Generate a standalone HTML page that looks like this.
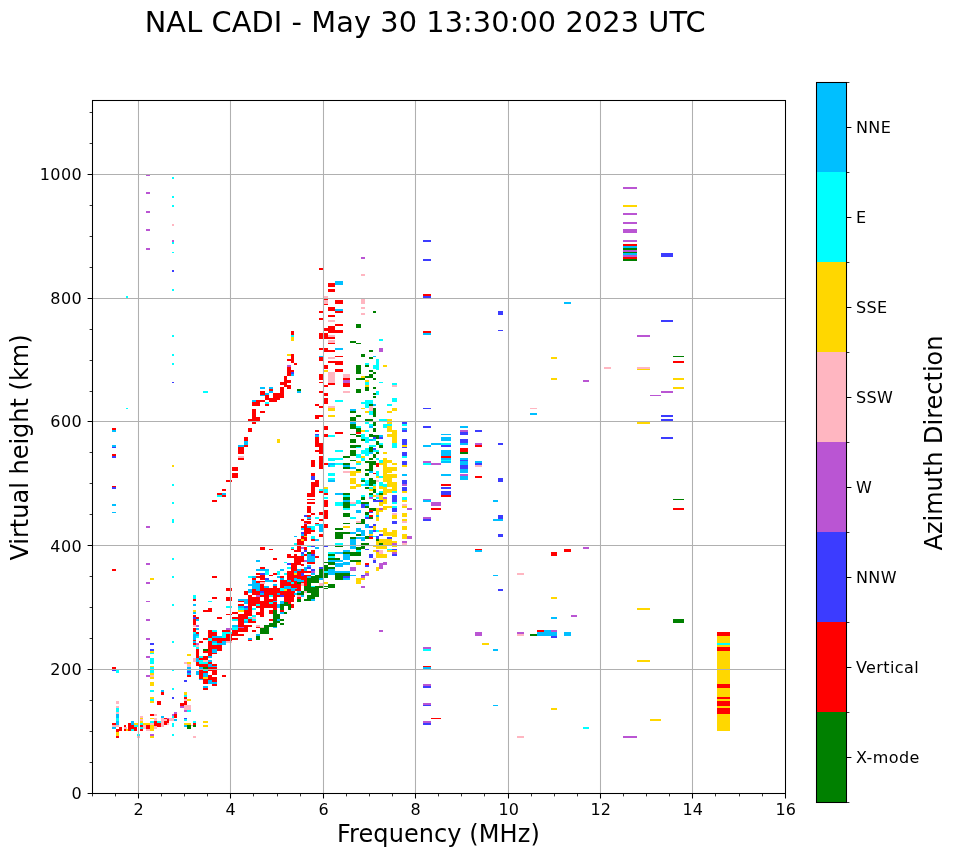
<!DOCTYPE html><html><head><meta charset="utf-8"><title>NAL CADI ionogram</title>
<style>html,body{margin:0;padding:0;background:#fff}svg{display:block}text{font-family:"DejaVu Sans","Liberation Sans",sans-serif;fill:#000}</style></head><body>
<svg width="958" height="857" viewBox="0 0 958 857">
<rect width="958" height="857" fill="#fff"/>
<g shape-rendering="crispEdges">
<rect x="116" y="701" width="3" height="3" fill="#ffb6c1"/>
<rect x="116" y="706" width="3" height="2" fill="#ffb6c1"/>
<rect x="116" y="708" width="3" height="4" fill="#00ffff"/>
<rect x="116" y="712" width="3" height="2" fill="#ffb6c1"/>
<rect x="116" y="714" width="3" height="4" fill="#00bfff"/>
<rect x="116" y="718" width="3" height="3" fill="#00ffff"/>
<rect x="116" y="721" width="3" height="4" fill="#00bfff"/>
<rect x="112" y="723" width="4" height="2" fill="#ff0000"/>
<rect x="112" y="725" width="7" height="2" fill="#ffb6c1"/>
<rect x="112" y="727" width="4" height="2" fill="#00bfff"/>
<rect x="119" y="727" width="3" height="4" fill="#ff0000"/>
<rect x="116" y="729" width="3" height="3" fill="#ff0000"/>
<rect x="116" y="732" width="3" height="4" fill="#ffd700"/>
<rect x="116" y="736" width="3" height="2" fill="#ff0000"/>
<rect x="124" y="725" width="2" height="2" fill="#ff0000"/>
<rect x="124" y="727" width="3" height="2" fill="#ffb6c1"/>
<rect x="124" y="729" width="2" height="2" fill="#ff0000"/>
<rect x="126" y="729" width="2" height="2" fill="#ffd700"/>
<rect x="128" y="723" width="3" height="8" fill="#ff0000"/>
<rect x="131" y="721" width="3" height="4" fill="#00bfff"/>
<rect x="131" y="725" width="3" height="4" fill="#ff0000"/>
<rect x="131" y="729" width="3" height="2" fill="#00ffff"/>
<rect x="134" y="727" width="3" height="4" fill="#ff0000"/>
<rect x="134" y="725" width="4" height="2" fill="#00ffff"/>
<rect x="134" y="723" width="4" height="2" fill="#ffd700"/>
<rect x="140" y="716" width="3" height="2" fill="#ffb6c1"/>
<rect x="140" y="718" width="3" height="1" fill="#ffd700"/>
<rect x="140" y="719" width="3" height="2" fill="#ffb6c1"/>
<rect x="140" y="721" width="3" height="2" fill="#ffd700"/>
<rect x="140" y="723" width="3" height="2" fill="#00ffff"/>
<rect x="143" y="723" width="7" height="2" fill="#ffd700"/>
<rect x="140" y="725" width="3" height="2" fill="#ff0000"/>
<rect x="140" y="727" width="3" height="2" fill="#00ffff"/>
<rect x="140" y="729" width="3" height="2" fill="#ff0000"/>
<rect x="143" y="725" width="3" height="4" fill="#ffb6c1"/>
<rect x="137" y="734" width="3" height="2" fill="#00ffff"/>
<rect x="137" y="736" width="3" height="2" fill="#ffb6c1"/>
<rect x="146" y="725" width="4" height="4" fill="#ff0000"/>
<rect x="146" y="729" width="4" height="2" fill="#ffb6c1"/>
<rect x="150" y="690" width="4" height="2" fill="#00ffff"/>
<rect x="150" y="697" width="4" height="2" fill="#ffd700"/>
<rect x="150" y="699" width="4" height="2" fill="#00ffff"/>
<rect x="150" y="701" width="4" height="2" fill="#ffd700"/>
<rect x="150" y="714" width="4" height="2" fill="#ff0000"/>
<rect x="154" y="714" width="3" height="2" fill="#ffb6c1"/>
<rect x="150" y="718" width="4" height="1" fill="#ffd700"/>
<rect x="150" y="721" width="4" height="2" fill="#00ffff"/>
<rect x="150" y="723" width="4" height="2" fill="#ffb6c1"/>
<rect x="150" y="725" width="4" height="6" fill="#ffd700"/>
<rect x="150" y="734" width="4" height="2" fill="#ba55d3"/>
<rect x="150" y="736" width="4" height="2" fill="#ffd700"/>
<rect x="154" y="718" width="3" height="3" fill="#ffb6c1"/>
<rect x="154" y="721" width="7" height="6" fill="#ff0000"/>
<rect x="157" y="721" width="4" height="2" fill="#00ffff"/>
<rect x="154" y="726" width="3" height="3" fill="#ffb6c1"/>
<rect x="157" y="701" width="4" height="4" fill="#ff0000"/>
<rect x="161" y="690" width="3" height="2" fill="#00bfff"/>
<rect x="161" y="692" width="3" height="3" fill="#ff0000"/>
<rect x="161" y="716" width="3" height="2" fill="#00bfff"/>
<rect x="161" y="718" width="3" height="9" fill="#ffb6c1"/>
<rect x="164" y="718" width="5" height="7" fill="#ff0000"/>
<rect x="164" y="719" width="3" height="2" fill="#ffb6c1"/>
<rect x="167" y="718" width="2" height="1" fill="#ba55d3"/>
<rect x="167" y="723" width="2" height="2" fill="#ffb6c1"/>
<rect x="169" y="718" width="5" height="3" fill="#ffb6c1"/>
<rect x="172" y="697" width="2" height="2" fill="#3c3cff"/>
<rect x="172" y="714" width="2" height="2" fill="#ba55d3"/>
<rect x="172" y="716" width="2" height="2" fill="#00ffff"/>
<rect x="172" y="723" width="2" height="4" fill="#00ffff"/>
<rect x="172" y="734" width="2" height="2" fill="#00ffff"/>
<rect x="174" y="712" width="3" height="2" fill="#ba55d3"/>
<rect x="174" y="714" width="3" height="4" fill="#ff0000"/>
<rect x="174" y="719" width="3" height="2" fill="#00bfff"/>
<rect x="184" y="692" width="3" height="3" fill="#ffd700"/>
<rect x="184" y="695" width="3" height="2" fill="#00ffff"/>
<rect x="184" y="697" width="3" height="2" fill="#ff0000"/>
<rect x="184" y="699" width="3" height="2" fill="#ffb6c1"/>
<rect x="187" y="699" width="4" height="2" fill="#ffd700"/>
<rect x="184" y="701" width="3" height="4" fill="#ff0000"/>
<rect x="180" y="703" width="4" height="3" fill="#ff0000"/>
<rect x="180" y="706" width="4" height="2" fill="#ba55d3"/>
<rect x="184" y="705" width="7" height="5" fill="#ffb6c1"/>
<rect x="184" y="710" width="3" height="2" fill="#ba55d3"/>
<rect x="187" y="710" width="4" height="2" fill="#00ffff"/>
<rect x="184" y="718" width="3" height="1" fill="#3c3cff"/>
<rect x="184" y="719" width="3" height="2" fill="#00ffff"/>
<rect x="184" y="723" width="7" height="2" fill="#ffd700"/>
<rect x="184" y="725" width="3" height="2" fill="#00bfff"/>
<rect x="187" y="725" width="4" height="4" fill="#008000"/>
<rect x="191" y="725" width="2" height="1" fill="#ffb6c1"/>
<rect x="193" y="721" width="3" height="2" fill="#00ffff"/>
<rect x="193" y="723" width="3" height="2" fill="#ff0000"/>
<rect x="193" y="725" width="3" height="2" fill="#008000"/>
<rect x="193" y="736" width="3" height="2" fill="#ffb6c1"/>
<rect x="203" y="721" width="5" height="2" fill="#ffd700"/>
<rect x="203" y="725" width="5" height="2" fill="#ffd700"/>
<rect x="146" y="583" width="4" height="1" fill="#ba55d3"/>
<rect x="146" y="601" width="4" height="1" fill="#ba55d3"/>
<rect x="146" y="619" width="4" height="2" fill="#ba55d3"/>
<rect x="146" y="638" width="4" height="2" fill="#ba55d3"/>
<rect x="146" y="656" width="4" height="2" fill="#ba55d3"/>
<rect x="146" y="675" width="4" height="2" fill="#ba55d3"/>
<rect x="150" y="643" width="4" height="2" fill="#3c3cff"/>
<rect x="150" y="649" width="4" height="2" fill="#3c3cff"/>
<rect x="150" y="651" width="4" height="2" fill="#ffd700"/>
<rect x="150" y="653" width="4" height="1" fill="#00ffff"/>
<rect x="150" y="658" width="4" height="6" fill="#00ffff"/>
<rect x="150" y="666" width="4" height="1" fill="#ffd700"/>
<rect x="150" y="667" width="4" height="6" fill="#00ffff"/>
<rect x="150" y="673" width="4" height="2" fill="#ffd700"/>
<rect x="150" y="675" width="4" height="2" fill="#ffb6c1"/>
<rect x="150" y="677" width="4" height="2" fill="#ffd700"/>
<rect x="150" y="682" width="4" height="4" fill="#ffd700"/>
<rect x="112" y="667" width="4" height="2" fill="#ff0000"/>
<rect x="112" y="670" width="4" height="1" fill="#3c3cff"/>
<rect x="116" y="670" width="3" height="3" fill="#00ffff"/>
<rect x="172" y="604" width="2" height="2" fill="#00ffff"/>
<rect x="172" y="641" width="2" height="2" fill="#00ffff"/>
<rect x="172" y="670" width="2" height="1" fill="#00ffff"/>
<rect x="172" y="688" width="2" height="2" fill="#00ffff"/>
<rect x="187" y="654" width="4" height="2" fill="#ffd700"/>
<rect x="184" y="662" width="3" height="2" fill="#ffb6c1"/>
<rect x="187" y="662" width="4" height="2" fill="#ffd700"/>
<rect x="187" y="664" width="4" height="3" fill="#ffb6c1"/>
<rect x="187" y="667" width="4" height="4" fill="#00bfff"/>
<rect x="187" y="671" width="4" height="2" fill="#3c3cff"/>
<rect x="187" y="673" width="4" height="2" fill="#00bfff"/>
<rect x="187" y="675" width="4" height="2" fill="#ff0000"/>
<rect x="184" y="680" width="3" height="2" fill="#3c3cff"/>
<rect x="193" y="595" width="3" height="4" fill="#00ffff"/>
<rect x="193" y="599" width="3" height="2" fill="#ff0000"/>
<rect x="193" y="604" width="3" height="2" fill="#00bfff"/>
<rect x="193" y="610" width="3" height="2" fill="#ffd700"/>
<rect x="193" y="612" width="3" height="2" fill="#00bfff"/>
<rect x="193" y="615" width="3" height="2" fill="#ff0000"/>
<rect x="193" y="617" width="3" height="2" fill="#3c3cff"/>
<rect x="196" y="617" width="3" height="2" fill="#ff0000"/>
<rect x="193" y="619" width="3" height="6" fill="#ff0000"/>
<rect x="196" y="619" width="3" height="2" fill="#00bfff"/>
<rect x="193" y="625" width="3" height="2" fill="#ffb6c1"/>
<rect x="196" y="625" width="3" height="2" fill="#ba55d3"/>
<rect x="196" y="628" width="3" height="2" fill="#00bfff"/>
<rect x="193" y="628" width="3" height="4" fill="#ff0000"/>
<rect x="196" y="632" width="3" height="2" fill="#ff0000"/>
<rect x="193" y="632" width="3" height="2" fill="#00ffff"/>
<rect x="193" y="634" width="3" height="6" fill="#00bfff"/>
<rect x="196" y="634" width="3" height="2" fill="#00bfff"/>
<rect x="196" y="636" width="3" height="2" fill="#00ffff"/>
<rect x="193" y="640" width="3" height="1" fill="#ff0000"/>
<rect x="193" y="641" width="3" height="2" fill="#00bfff"/>
<rect x="193" y="643" width="3" height="2" fill="#ff0000"/>
<rect x="196" y="643" width="3" height="2" fill="#ba55d3"/>
<rect x="193" y="645" width="3" height="2" fill="#00ffff"/>
<rect x="196" y="645" width="3" height="2" fill="#ffb6c1"/>
<rect x="196" y="647" width="3" height="2" fill="#00ffff"/>
<rect x="199" y="641" width="4" height="2" fill="#ff0000"/>
<rect x="212" y="597" width="5" height="2" fill="#ff0000"/>
<rect x="208" y="601" width="4" height="1" fill="#00ffff"/>
<rect x="208" y="608" width="4" height="4" fill="#ff0000"/>
<rect x="203" y="610" width="5" height="2" fill="#ff0000"/>
<rect x="217" y="617" width="3" height="2" fill="#ff0000"/>
<rect x="208" y="630" width="4" height="8" fill="#ff0000"/>
<rect x="212" y="630" width="5" height="2" fill="#00ffff"/>
<rect x="212" y="632" width="5" height="4" fill="#ff0000"/>
<rect x="212" y="636" width="8" height="2" fill="#00bfff"/>
<rect x="203" y="638" width="5" height="2" fill="#ff0000"/>
<rect x="208" y="638" width="4" height="3" fill="#00bfff"/>
<rect x="212" y="638" width="5" height="4" fill="#ff0000"/>
<rect x="217" y="638" width="3" height="4" fill="#00bfff"/>
<rect x="208" y="641" width="4" height="15" fill="#ff0000"/>
<rect x="212" y="642" width="5" height="3" fill="#00ffff"/>
<rect x="217" y="643" width="3" height="2" fill="#00bfff"/>
<rect x="212" y="645" width="8" height="4" fill="#ff0000"/>
<rect x="212" y="649" width="5" height="4" fill="#00bfff"/>
<rect x="217" y="649" width="3" height="2" fill="#ff0000"/>
<rect x="212" y="653" width="5" height="1" fill="#ff0000"/>
<rect x="203" y="649" width="5" height="2" fill="#008000"/>
<rect x="203" y="651" width="5" height="2" fill="#ff0000"/>
<rect x="196" y="649" width="3" height="9" fill="#ff0000"/>
<rect x="196" y="658" width="3" height="4" fill="#00bfff"/>
<rect x="196" y="662" width="3" height="4" fill="#ff0000"/>
<rect x="199" y="656" width="4" height="2" fill="#00bfff"/>
<rect x="199" y="658" width="4" height="2" fill="#ff0000"/>
<rect x="203" y="656" width="5" height="4" fill="#ff0000"/>
<rect x="208" y="656" width="4" height="2" fill="#00bfff"/>
<rect x="193" y="658" width="3" height="4" fill="#ffb6c1"/>
<rect x="199" y="660" width="9" height="4" fill="#00ffff"/>
<rect x="203" y="660" width="5" height="2" fill="#ffb6c1"/>
<rect x="208" y="660" width="4" height="2" fill="#00bfff"/>
<rect x="208" y="662" width="4" height="2" fill="#ff0000"/>
<rect x="199" y="664" width="9" height="3" fill="#ff0000"/>
<rect x="208" y="664" width="4" height="3" fill="#00bfff"/>
<rect x="212" y="664" width="5" height="2" fill="#ff0000"/>
<rect x="212" y="666" width="5" height="1" fill="#00bfff"/>
<rect x="199" y="667" width="4" height="2" fill="#00bfff"/>
<rect x="203" y="667" width="5" height="2" fill="#008000"/>
<rect x="208" y="667" width="12" height="4" fill="#ff0000"/>
<rect x="199" y="669" width="4" height="2" fill="#ff0000"/>
<rect x="203" y="669" width="5" height="2" fill="#00bfff"/>
<rect x="196" y="671" width="3" height="4" fill="#00bfff"/>
<rect x="199" y="671" width="4" height="8" fill="#ff0000"/>
<rect x="203" y="670" width="5" height="1" fill="#00ffff"/>
<rect x="203" y="671" width="5" height="2" fill="#ff0000"/>
<rect x="203" y="673" width="5" height="4" fill="#00bfff"/>
<rect x="203" y="677" width="5" height="2" fill="#ffd700"/>
<rect x="203" y="679" width="5" height="5" fill="#ff0000"/>
<rect x="212" y="671" width="5" height="4" fill="#ff0000"/>
<rect x="208" y="675" width="4" height="5" fill="#ff0000"/>
<rect x="208" y="680" width="4" height="4" fill="#00bfff"/>
<rect x="212" y="677" width="5" height="5" fill="#ff0000"/>
<rect x="212" y="682" width="5" height="2" fill="#00bfff"/>
<rect x="212" y="684" width="5" height="2" fill="#ff0000"/>
<rect x="199" y="679" width="4" height="1" fill="#00bfff"/>
<rect x="203" y="686" width="5" height="2" fill="#00bfff"/>
<rect x="203" y="688" width="5" height="2" fill="#ff0000"/>
<rect x="226" y="588" width="6" height="3" fill="#ff0000"/>
<rect x="226" y="597" width="6" height="4" fill="#ff0000"/>
<rect x="226" y="606" width="6" height="2" fill="#00ffff"/>
<rect x="226" y="614" width="6" height="1" fill="#ff0000"/>
<rect x="220" y="617" width="2" height="2" fill="#ff0000"/>
<rect x="222" y="675" width="4" height="2" fill="#ff0000"/>
<rect x="220" y="645" width="2" height="6" fill="#ff0000"/>
<rect x="220" y="638" width="2" height="5" fill="#ff0000"/>
<rect x="220" y="641" width="6" height="4" fill="#00bfff"/>
<rect x="226" y="641" width="6" height="2" fill="#ffb6c1"/>
<rect x="222" y="632" width="4" height="6" fill="#00ffff"/>
<rect x="226" y="632" width="6" height="2" fill="#00ffff"/>
<rect x="226" y="634" width="6" height="7" fill="#ff0000"/>
<rect x="222" y="630" width="4" height="2" fill="#ff0000"/>
<rect x="226" y="628" width="6" height="2" fill="#ba55d3"/>
<rect x="232" y="630" width="6" height="6" fill="#ff0000"/>
<rect x="238" y="634" width="6" height="2" fill="#ff0000"/>
<rect x="232" y="638" width="6" height="2" fill="#ff0000"/>
<rect x="232" y="625" width="6" height="5" fill="#00bfff"/>
<rect x="238" y="625" width="10" height="7" fill="#ff0000"/>
<rect x="238" y="627" width="6" height="1" fill="#ba55d3"/>
<rect x="232" y="619" width="6" height="2" fill="#00ffff"/>
<rect x="232" y="617" width="6" height="2" fill="#ff0000"/>
<rect x="232" y="612" width="6" height="2" fill="#ff0000"/>
<rect x="238" y="614" width="6" height="13" fill="#ff0000"/>
<rect x="238" y="599" width="10" height="2" fill="#00bfff"/>
<rect x="244" y="601" width="4" height="3" fill="#00bfff"/>
<rect x="238" y="601" width="6" height="1" fill="#ff0000"/>
<rect x="238" y="604" width="6" height="2" fill="#ff0000"/>
<rect x="238" y="606" width="6" height="2" fill="#00bfff"/>
<rect x="244" y="606" width="4" height="2" fill="#3c3cff"/>
<rect x="238" y="608" width="6" height="2" fill="#00ffff"/>
<rect x="244" y="608" width="4" height="2" fill="#00bfff"/>
<rect x="238" y="610" width="6" height="2" fill="#ffd700"/>
<rect x="244" y="610" width="4" height="15" fill="#ff0000"/>
<rect x="244" y="619" width="4" height="4" fill="#00bfff"/>
<rect x="248" y="595" width="4" height="21" fill="#ff0000"/>
<rect x="248" y="617" width="4" height="2" fill="#00ffff"/>
<rect x="248" y="619" width="8" height="4" fill="#ff0000"/>
<rect x="244" y="591" width="4" height="4" fill="#ff0000"/>
<rect x="248" y="589" width="4" height="4" fill="#00bfff"/>
<rect x="248" y="584" width="4" height="2" fill="#00bfff"/>
<rect x="252" y="583" width="8" height="6" fill="#00bfff"/>
<rect x="252" y="589" width="4" height="14" fill="#ff0000"/>
<rect x="256" y="595" width="4" height="2" fill="#ba55d3"/>
<rect x="252" y="597" width="8" height="5" fill="#ff0000"/>
<rect x="252" y="608" width="4" height="2" fill="#00ffff"/>
<rect x="252" y="615" width="4" height="2" fill="#00ffff"/>
<rect x="252" y="617" width="4" height="2" fill="#ffb6c1"/>
<rect x="252" y="619" width="4" height="2" fill="#00ffff"/>
<rect x="260" y="602" width="4" height="15" fill="#ff0000"/>
<rect x="256" y="602" width="4" height="2" fill="#ff0000"/>
<rect x="256" y="604" width="4" height="2" fill="#00ffff"/>
<rect x="256" y="606" width="4" height="2" fill="#ff0000"/>
<rect x="256" y="612" width="4" height="3" fill="#ff0000"/>
<rect x="256" y="625" width="4" height="2" fill="#ffb6c1"/>
<rect x="256" y="627" width="4" height="1" fill="#ff0000"/>
<rect x="260" y="627" width="4" height="1" fill="#ffb6c1"/>
<rect x="252" y="630" width="4" height="2" fill="#ff0000"/>
<rect x="256" y="634" width="4" height="2" fill="#00bfff"/>
<rect x="256" y="636" width="4" height="4" fill="#008000"/>
<rect x="248" y="638" width="4" height="2" fill="#00bfff"/>
<rect x="248" y="640" width="4" height="1" fill="#ff0000"/>
<rect x="269" y="638" width="4" height="2" fill="#ff0000"/>
<rect x="260" y="628" width="9" height="6" fill="#008000"/>
<rect x="264" y="625" width="5" height="3" fill="#008000"/>
<rect x="269" y="623" width="8" height="4" fill="#008000"/>
<rect x="273" y="627" width="4" height="1" fill="#00bfff"/>
<rect x="269" y="619" width="4" height="2" fill="#ff0000"/>
<rect x="273" y="610" width="4" height="13" fill="#008000"/>
<rect x="277" y="614" width="3" height="9" fill="#008000"/>
<rect x="277" y="619" width="3" height="2" fill="#00bfff"/>
<rect x="280" y="619" width="4" height="2" fill="#008000"/>
<rect x="280" y="623" width="4" height="2" fill="#008000"/>
<rect x="269" y="610" width="4" height="4" fill="#ff0000"/>
<rect x="260" y="583" width="4" height="5" fill="#ff0000"/>
<rect x="260" y="588" width="20" height="9" fill="#ff0000"/>
<rect x="260" y="591" width="4" height="2" fill="#3c3cff"/>
<rect x="260" y="593" width="4" height="2" fill="#00bfff"/>
<rect x="264" y="586" width="5" height="2" fill="#00bfff"/>
<rect x="273" y="584" width="4" height="2" fill="#00bfff"/>
<rect x="269" y="595" width="4" height="2" fill="#00ffff"/>
<rect x="264" y="597" width="5" height="2" fill="#ff0000"/>
<rect x="273" y="588" width="4" height="22" fill="#ff0000"/>
<rect x="264" y="599" width="9" height="9" fill="#ff0000"/>
<rect x="269" y="602" width="4" height="2" fill="#00ffff"/>
<rect x="273" y="601" width="4" height="1" fill="#00bfff"/>
<rect x="280" y="583" width="15" height="14" fill="#ff0000"/>
<rect x="280" y="588" width="4" height="3" fill="#00ffff"/>
<rect x="284" y="589" width="3" height="2" fill="#ffd700"/>
<rect x="284" y="586" width="7" height="3" fill="#00bfff"/>
<rect x="291" y="588" width="6" height="3" fill="#00bfff"/>
<rect x="277" y="593" width="3" height="2" fill="#00bfff"/>
<rect x="280" y="595" width="4" height="2" fill="#3c3cff"/>
<rect x="277" y="604" width="3" height="4" fill="#00bfff"/>
<rect x="280" y="601" width="4" height="3" fill="#00bfff"/>
<rect x="284" y="597" width="10" height="5" fill="#ff0000"/>
<rect x="288" y="602" width="3" height="2" fill="#ff0000"/>
<rect x="280" y="604" width="4" height="6" fill="#008000"/>
<rect x="284" y="602" width="4" height="4" fill="#008000"/>
<rect x="288" y="604" width="3" height="6" fill="#008000"/>
<rect x="291" y="604" width="3" height="4" fill="#ff0000"/>
<rect x="280" y="610" width="4" height="2" fill="#ff0000"/>
<rect x="280" y="612" width="4" height="2" fill="#00bfff"/>
<rect x="284" y="612" width="3" height="2" fill="#008000"/>
<rect x="295" y="583" width="6" height="8" fill="#ff0000"/>
<rect x="297" y="591" width="4" height="2" fill="#00bfff"/>
<rect x="297" y="591" width="7" height="4" fill="#008000"/>
<rect x="294" y="593" width="3" height="2" fill="#00bfff"/>
<rect x="297" y="595" width="4" height="2" fill="#ffb6c1"/>
<rect x="301" y="595" width="3" height="2" fill="#00bfff"/>
<rect x="297" y="597" width="4" height="2" fill="#ff0000"/>
<rect x="297" y="599" width="4" height="3" fill="#008000"/>
<rect x="297" y="583" width="4" height="1" fill="#008000"/>
<rect x="301" y="583" width="3" height="3" fill="#ffb6c1"/>
<rect x="304" y="583" width="3" height="3" fill="#ff0000"/>
<rect x="307" y="583" width="4" height="4" fill="#008000"/>
<rect x="304" y="586" width="19" height="2" fill="#008000"/>
<rect x="304" y="588" width="15" height="5" fill="#008000"/>
<rect x="304" y="591" width="3" height="2" fill="#ffb6c1"/>
<rect x="311" y="593" width="8" height="4" fill="#008000"/>
<rect x="307" y="595" width="4" height="6" fill="#008000"/>
<rect x="304" y="599" width="3" height="2" fill="#008000"/>
<rect x="311" y="597" width="4" height="2" fill="#008000"/>
<rect x="311" y="599" width="4" height="2" fill="#00bfff"/>
<rect x="311" y="586" width="4" height="1" fill="#00ffff"/>
<rect x="319" y="583" width="4" height="3" fill="#ffb6c1"/>
<rect x="323" y="583" width="5" height="1" fill="#ffd700"/>
<rect x="328" y="584" width="7" height="4" fill="#008000"/>
<rect x="323" y="586" width="5" height="1" fill="#008000"/>
<rect x="323" y="588" width="5" height="1" fill="#008000"/>
<rect x="356" y="583" width="5" height="1" fill="#ffd700"/>
<rect x="361" y="586" width="4" height="2" fill="#ba55d3"/>
<rect x="379" y="630" width="4" height="2" fill="#ba55d3"/>
<rect x="423" y="647" width="8" height="2" fill="#ba55d3"/>
<rect x="423" y="649" width="8" height="2" fill="#00ffff"/>
<rect x="423" y="666" width="8" height="1" fill="#ff0000"/>
<rect x="423" y="667" width="8" height="2" fill="#00bfff"/>
<rect x="423" y="684" width="8" height="2" fill="#ba55d3"/>
<rect x="423" y="686" width="8" height="2" fill="#3c3cff"/>
<rect x="112" y="486" width="4" height="1" fill="#ff0000"/>
<rect x="112" y="487" width="4" height="2" fill="#3c3cff"/>
<rect x="112" y="504" width="4" height="2" fill="#00bfff"/>
<rect x="112" y="512" width="4" height="1" fill="#00bfff"/>
<rect x="112" y="569" width="4" height="2" fill="#ff0000"/>
<rect x="172" y="484" width="2" height="2" fill="#00ffff"/>
<rect x="172" y="502" width="2" height="2" fill="#00ffff"/>
<rect x="172" y="519" width="2" height="4" fill="#00ffff"/>
<rect x="172" y="558" width="2" height="2" fill="#00ffff"/>
<rect x="172" y="576" width="2" height="2" fill="#00ffff"/>
<rect x="146" y="526" width="4" height="2" fill="#ba55d3"/>
<rect x="146" y="563" width="4" height="2" fill="#ba55d3"/>
<rect x="150" y="578" width="4" height="2" fill="#ffd700"/>
<rect x="146" y="582" width="4" height="1" fill="#ba55d3"/>
<rect x="217" y="493" width="3" height="2" fill="#ff0000"/>
<rect x="217" y="495" width="3" height="2" fill="#00ffff"/>
<rect x="212" y="500" width="5" height="2" fill="#ff0000"/>
<rect x="212" y="576" width="5" height="2" fill="#ff0000"/>
<rect x="232" y="476" width="6" height="2" fill="#ff0000"/>
<rect x="226" y="480" width="6" height="2" fill="#ff0000"/>
<rect x="222" y="489" width="4" height="2" fill="#ff0000"/>
<rect x="220" y="493" width="2" height="2" fill="#ff0000"/>
<rect x="222" y="493" width="4" height="2" fill="#00bfff"/>
<rect x="220" y="495" width="2" height="2" fill="#00ffff"/>
<rect x="222" y="495" width="4" height="2" fill="#ff0000"/>
<rect x="311" y="476" width="4" height="4" fill="#3c3cff"/>
<rect x="315" y="480" width="4" height="7" fill="#ff0000"/>
<rect x="311" y="482" width="4" height="11" fill="#ff0000"/>
<rect x="307" y="493" width="8" height="4" fill="#ff0000"/>
<rect x="307" y="499" width="8" height="1" fill="#ff0000"/>
<rect x="307" y="502" width="8" height="2" fill="#ff0000"/>
<rect x="307" y="506" width="4" height="7" fill="#ff0000"/>
<rect x="311" y="513" width="4" height="2" fill="#ff0000"/>
<rect x="319" y="512" width="4" height="3" fill="#ff0000"/>
<rect x="304" y="515" width="3" height="2" fill="#3c3cff"/>
<rect x="307" y="515" width="4" height="2" fill="#ff0000"/>
<rect x="307" y="517" width="4" height="2" fill="#00bfff"/>
<rect x="315" y="517" width="4" height="2" fill="#00ffff"/>
<rect x="301" y="519" width="3" height="2" fill="#ff0000"/>
<rect x="319" y="519" width="4" height="2" fill="#ff0000"/>
<rect x="304" y="521" width="3" height="2" fill="#ff0000"/>
<rect x="307" y="519" width="4" height="1" fill="#ff0000"/>
<rect x="307" y="521" width="4" height="2" fill="#ff0000"/>
<rect x="304" y="523" width="3" height="1" fill="#ba55d3"/>
<rect x="307" y="523" width="4" height="1" fill="#ff0000"/>
<rect x="315" y="523" width="4" height="1" fill="#ff0000"/>
<rect x="304" y="524" width="3" height="12" fill="#ff0000"/>
<rect x="301" y="526" width="3" height="2" fill="#ff0000"/>
<rect x="301" y="528" width="3" height="2" fill="#00bfff"/>
<rect x="307" y="526" width="4" height="2" fill="#00bfff"/>
<rect x="311" y="526" width="4" height="4" fill="#00ffff"/>
<rect x="307" y="528" width="4" height="6" fill="#ff0000"/>
<rect x="311" y="530" width="4" height="2" fill="#ff0000"/>
<rect x="319" y="524" width="4" height="8" fill="#00bfff"/>
<rect x="315" y="524" width="4" height="2" fill="#00ffff"/>
<rect x="301" y="532" width="3" height="2" fill="#3c3cff"/>
<rect x="301" y="534" width="3" height="2" fill="#00bfff"/>
<rect x="319" y="534" width="4" height="3" fill="#ff0000"/>
<rect x="304" y="536" width="3" height="1" fill="#ffd700"/>
<rect x="294" y="536" width="3" height="1" fill="#00bfff"/>
<rect x="301" y="536" width="3" height="3" fill="#ff0000"/>
<rect x="311" y="536" width="4" height="3" fill="#00ffff"/>
<rect x="311" y="539" width="4" height="2" fill="#ff0000"/>
<rect x="315" y="539" width="4" height="2" fill="#00bfff"/>
<rect x="297" y="539" width="4" height="2" fill="#ff0000"/>
<rect x="301" y="539" width="3" height="2" fill="#ffd700"/>
<rect x="304" y="537" width="3" height="4" fill="#ff0000"/>
<rect x="297" y="541" width="7" height="4" fill="#ff0000"/>
<rect x="294" y="543" width="3" height="2" fill="#00ffff"/>
<rect x="319" y="489" width="4" height="2" fill="#00ffff"/>
<rect x="319" y="491" width="4" height="2" fill="#ff0000"/>
<rect x="324" y="487" width="4" height="2" fill="#ffd700"/>
<rect x="324" y="489" width="4" height="4" fill="#00ffff"/>
<rect x="324" y="493" width="4" height="2" fill="#ff0000"/>
<rect x="324" y="497" width="4" height="2" fill="#00ffff"/>
<rect x="324" y="500" width="4" height="7" fill="#ff0000"/>
<rect x="324" y="510" width="4" height="9" fill="#ff0000"/>
<rect x="324" y="524" width="4" height="4" fill="#ff0000"/>
<rect x="328" y="478" width="7" height="2" fill="#00ffff"/>
<rect x="328" y="480" width="7" height="2" fill="#00bfff"/>
<rect x="335" y="493" width="8" height="2" fill="#00bfff"/>
<rect x="335" y="502" width="8" height="4" fill="#00ffff"/>
<rect x="335" y="528" width="8" height="2" fill="#008000"/>
<rect x="335" y="532" width="8" height="7" fill="#008000"/>
<rect x="335" y="543" width="8" height="2" fill="#00ffff"/>
<rect x="335" y="546" width="8" height="1" fill="#008000"/>
<rect x="324" y="546" width="4" height="1" fill="#3c3cff"/>
<rect x="260" y="547" width="5" height="3" fill="#ff0000"/>
<rect x="269" y="549" width="4" height="1" fill="#ff0000"/>
<rect x="273" y="558" width="4" height="2" fill="#ff0000"/>
<rect x="256" y="560" width="4" height="2" fill="#00bfff"/>
<rect x="284" y="562" width="3" height="1" fill="#00ffff"/>
<rect x="291" y="547" width="3" height="2" fill="#00ffff"/>
<rect x="291" y="549" width="3" height="1" fill="#ff0000"/>
<rect x="294" y="550" width="3" height="2" fill="#ff0000"/>
<rect x="297" y="546" width="4" height="6" fill="#ff0000"/>
<rect x="301" y="547" width="3" height="2" fill="#ba55d3"/>
<rect x="304" y="547" width="3" height="3" fill="#ff0000"/>
<rect x="307" y="546" width="4" height="1" fill="#00ffff"/>
<rect x="311" y="546" width="4" height="1" fill="#3c3cff"/>
<rect x="315" y="547" width="4" height="2" fill="#00bfff"/>
<rect x="304" y="550" width="3" height="2" fill="#3c3cff"/>
<rect x="301" y="552" width="3" height="2" fill="#3c3cff"/>
<rect x="307" y="552" width="4" height="2" fill="#008000"/>
<rect x="311" y="550" width="4" height="4" fill="#ff0000"/>
<rect x="311" y="554" width="4" height="2" fill="#3c3cff"/>
<rect x="287" y="554" width="4" height="3" fill="#ff0000"/>
<rect x="294" y="554" width="3" height="2" fill="#ff0000"/>
<rect x="291" y="556" width="13" height="6" fill="#ff0000"/>
<rect x="294" y="556" width="7" height="10" fill="#ff0000"/>
<rect x="307" y="554" width="8" height="8" fill="#00bfff"/>
<rect x="304" y="554" width="3" height="2" fill="#ff0000"/>
<rect x="315" y="556" width="4" height="2" fill="#ff0000"/>
<rect x="304" y="560" width="3" height="2" fill="#ba55d3"/>
<rect x="307" y="562" width="8" height="2" fill="#ff0000"/>
<rect x="287" y="563" width="4" height="2" fill="#3c3cff"/>
<rect x="291" y="563" width="3" height="6" fill="#ff0000"/>
<rect x="301" y="564" width="3" height="2" fill="#ff0000"/>
<rect x="307" y="565" width="4" height="2" fill="#00bfff"/>
<rect x="307" y="567" width="4" height="2" fill="#3c3cff"/>
<rect x="287" y="567" width="4" height="2" fill="#00ffff"/>
<rect x="304" y="567" width="3" height="4" fill="#00bfff"/>
<rect x="319" y="567" width="4" height="2" fill="#3c3cff"/>
<rect x="311" y="569" width="4" height="2" fill="#3c3cff"/>
<rect x="311" y="571" width="4" height="2" fill="#ba55d3"/>
<rect x="319" y="569" width="4" height="10" fill="#008000"/>
<rect x="260" y="567" width="5" height="2" fill="#ff0000"/>
<rect x="256" y="569" width="13" height="2" fill="#00bfff"/>
<rect x="280" y="569" width="4" height="2" fill="#00bfff"/>
<rect x="265" y="571" width="4" height="4" fill="#00ffff"/>
<rect x="256" y="573" width="4" height="2" fill="#ff0000"/>
<rect x="260" y="573" width="5" height="2" fill="#3c3cff"/>
<rect x="277" y="571" width="3" height="4" fill="#00ffff"/>
<rect x="273" y="573" width="4" height="2" fill="#ff0000"/>
<rect x="284" y="573" width="3" height="2" fill="#00ffff"/>
<rect x="269" y="575" width="4" height="1" fill="#ff0000"/>
<rect x="260" y="575" width="5" height="5" fill="#ff0000"/>
<rect x="248" y="576" width="4" height="2" fill="#00ffff"/>
<rect x="252" y="576" width="4" height="2" fill="#00bfff"/>
<rect x="256" y="576" width="4" height="2" fill="#ff0000"/>
<rect x="252" y="578" width="4" height="2" fill="#ff0000"/>
<rect x="252" y="580" width="4" height="3" fill="#00bfff"/>
<rect x="265" y="578" width="4" height="2" fill="#3c3cff"/>
<rect x="265" y="580" width="8" height="2" fill="#00bfff"/>
<rect x="256" y="581" width="9" height="2" fill="#ff0000"/>
<rect x="260" y="582" width="5" height="1" fill="#ffb6c1"/>
<rect x="273" y="580" width="4" height="2" fill="#ff0000"/>
<rect x="280" y="576" width="4" height="2" fill="#ff0000"/>
<rect x="277" y="576" width="3" height="2" fill="#00bfff"/>
<rect x="280" y="578" width="4" height="2" fill="#00bfff"/>
<rect x="280" y="580" width="7" height="3" fill="#ff0000"/>
<rect x="287" y="571" width="4" height="12" fill="#ff0000"/>
<rect x="291" y="569" width="3" height="14" fill="#ff0000"/>
<rect x="287" y="580" width="4" height="2" fill="#00bfff"/>
<rect x="294" y="573" width="3" height="2" fill="#ffd700"/>
<rect x="294" y="571" width="3" height="2" fill="#00bfff"/>
<rect x="294" y="575" width="3" height="3" fill="#ff0000"/>
<rect x="294" y="578" width="3" height="3" fill="#00bfff"/>
<rect x="297" y="566" width="4" height="3" fill="#ff0000"/>
<rect x="297" y="569" width="4" height="2" fill="#00bfff"/>
<rect x="297" y="571" width="4" height="8" fill="#ff0000"/>
<rect x="297" y="579" width="4" height="2" fill="#00bfff"/>
<rect x="301" y="569" width="3" height="4" fill="#ff0000"/>
<rect x="301" y="573" width="3" height="3" fill="#3c3cff"/>
<rect x="301" y="576" width="6" height="7" fill="#ff0000"/>
<rect x="304" y="571" width="7" height="5" fill="#ff0000"/>
<rect x="307" y="576" width="4" height="2" fill="#00bfff"/>
<rect x="307" y="576" width="12" height="7" fill="#008000"/>
<rect x="315" y="575" width="4" height="1" fill="#008000"/>
<rect x="319" y="578" width="4" height="2" fill="#00bfff"/>
<rect x="324" y="582" width="4" height="1" fill="#ffd700"/>
<rect x="328" y="552" width="7" height="2" fill="#00ffff"/>
<rect x="335" y="552" width="8" height="2" fill="#00bfff"/>
<rect x="328" y="554" width="7" height="2" fill="#008000"/>
<rect x="328" y="558" width="12" height="2" fill="#008000"/>
<rect x="328" y="560" width="7" height="2" fill="#00bfff"/>
<rect x="324" y="562" width="11" height="3" fill="#008000"/>
<rect x="335" y="563" width="8" height="4" fill="#00bfff"/>
<rect x="324" y="565" width="4" height="6" fill="#008000"/>
<rect x="328" y="567" width="7" height="2" fill="#008000"/>
<rect x="328" y="569" width="7" height="6" fill="#00bfff"/>
<rect x="335" y="571" width="8" height="2" fill="#00bfff"/>
<rect x="324" y="571" width="4" height="2" fill="#00ffff"/>
<rect x="324" y="573" width="4" height="5" fill="#008000"/>
<rect x="335" y="573" width="8" height="7" fill="#008000"/>
<rect x="340" y="560" width="3" height="2" fill="#00bfff"/>
<rect x="343" y="493" width="7" height="2" fill="#008000"/>
<rect x="343" y="495" width="7" height="2" fill="#00ffff"/>
<rect x="343" y="497" width="7" height="3" fill="#008000"/>
<rect x="343" y="500" width="7" height="2" fill="#00bfff"/>
<rect x="343" y="502" width="7" height="6" fill="#008000"/>
<rect x="343" y="508" width="7" height="2" fill="#00ffff"/>
<rect x="343" y="513" width="7" height="4" fill="#008000"/>
<rect x="343" y="523" width="7" height="1" fill="#008000"/>
<rect x="343" y="526" width="7" height="2" fill="#ffd700"/>
<rect x="343" y="532" width="7" height="2" fill="#008000"/>
<rect x="343" y="550" width="7" height="2" fill="#00bfff"/>
<rect x="343" y="552" width="7" height="2" fill="#008000"/>
<rect x="343" y="554" width="7" height="6" fill="#00bfff"/>
<rect x="343" y="562" width="7" height="3" fill="#00bfff"/>
<rect x="340" y="571" width="10" height="2" fill="#00bfff"/>
<rect x="340" y="573" width="10" height="3" fill="#008000"/>
<rect x="343" y="576" width="7" height="2" fill="#3c3cff"/>
<rect x="343" y="578" width="7" height="2" fill="#00bfff"/>
<rect x="350" y="478" width="6" height="6" fill="#ffd700"/>
<rect x="350" y="486" width="6" height="3" fill="#ffd700"/>
<rect x="350" y="502" width="6" height="2" fill="#ffb6c1"/>
<rect x="350" y="504" width="6" height="2" fill="#00ffff"/>
<rect x="350" y="517" width="6" height="2" fill="#00ffff"/>
<rect x="350" y="532" width="6" height="2" fill="#00bfff"/>
<rect x="350" y="537" width="6" height="2" fill="#008000"/>
<rect x="350" y="539" width="6" height="6" fill="#00bfff"/>
<rect x="350" y="546" width="6" height="3" fill="#00bfff"/>
<rect x="350" y="552" width="11" height="4" fill="#008000"/>
<rect x="350" y="560" width="11" height="2" fill="#008000"/>
<rect x="350" y="567" width="6" height="4" fill="#ba55d3"/>
<rect x="350" y="575" width="6" height="1" fill="#00ffff"/>
<rect x="356" y="484" width="5" height="3" fill="#ffd700"/>
<rect x="356" y="500" width="5" height="4" fill="#00ffff"/>
<rect x="356" y="510" width="5" height="3" fill="#00bfff"/>
<rect x="356" y="521" width="5" height="2" fill="#ffb6c1"/>
<rect x="356" y="523" width="5" height="1" fill="#008000"/>
<rect x="356" y="528" width="5" height="4" fill="#00bfff"/>
<rect x="356" y="534" width="5" height="2" fill="#008000"/>
<rect x="356" y="537" width="5" height="2" fill="#00bfff"/>
<rect x="356" y="547" width="5" height="3" fill="#008000"/>
<rect x="356" y="550" width="5" height="2" fill="#00ffff"/>
<rect x="356" y="562" width="5" height="3" fill="#ffd700"/>
<rect x="356" y="578" width="5" height="5" fill="#ffd700"/>
<rect x="361" y="478" width="4" height="2" fill="#00ffff"/>
<rect x="361" y="480" width="4" height="2" fill="#008000"/>
<rect x="361" y="484" width="4" height="2" fill="#00ffff"/>
<rect x="361" y="495" width="4" height="2" fill="#00ffff"/>
<rect x="361" y="497" width="4" height="3" fill="#008000"/>
<rect x="361" y="502" width="8" height="2" fill="#008000"/>
<rect x="361" y="504" width="4" height="4" fill="#3c3cff"/>
<rect x="361" y="519" width="4" height="5" fill="#008000"/>
<rect x="361" y="530" width="4" height="6" fill="#00bfff"/>
<rect x="361" y="537" width="4" height="4" fill="#00bfff"/>
<rect x="361" y="543" width="8" height="2" fill="#008000"/>
<rect x="361" y="546" width="4" height="3" fill="#008000"/>
<rect x="361" y="575" width="4" height="3" fill="#ba55d3"/>
<rect x="361" y="578" width="4" height="2" fill="#ffd700"/>
<rect x="365" y="480" width="4" height="4" fill="#00ffff"/>
<rect x="365" y="484" width="4" height="2" fill="#00bfff"/>
<rect x="365" y="487" width="4" height="2" fill="#008000"/>
<rect x="365" y="504" width="4" height="2" fill="#00bfff"/>
<rect x="365" y="506" width="4" height="2" fill="#008000"/>
<rect x="365" y="512" width="4" height="3" fill="#008000"/>
<rect x="365" y="515" width="4" height="2" fill="#00ffff"/>
<rect x="365" y="517" width="4" height="2" fill="#3c3cff"/>
<rect x="365" y="524" width="4" height="4" fill="#00bfff"/>
<rect x="365" y="536" width="4" height="3" fill="#008000"/>
<rect x="365" y="549" width="4" height="1" fill="#3c3cff"/>
<rect x="365" y="563" width="4" height="2" fill="#ff0000"/>
<rect x="365" y="565" width="4" height="2" fill="#3c3cff"/>
<rect x="365" y="571" width="4" height="2" fill="#ffd700"/>
<rect x="365" y="573" width="4" height="3" fill="#ba55d3"/>
<rect x="369" y="478" width="4" height="8" fill="#008000"/>
<rect x="369" y="487" width="4" height="2" fill="#00ffff"/>
<rect x="369" y="489" width="4" height="2" fill="#ffd700"/>
<rect x="369" y="493" width="4" height="2" fill="#008000"/>
<rect x="369" y="495" width="4" height="2" fill="#00ffff"/>
<rect x="369" y="497" width="4" height="2" fill="#ba55d3"/>
<rect x="369" y="508" width="7" height="3" fill="#008000"/>
<rect x="369" y="510" width="4" height="2" fill="#ff0000"/>
<rect x="369" y="512" width="4" height="1" fill="#3c3cff"/>
<rect x="369" y="515" width="4" height="2" fill="#ff0000"/>
<rect x="369" y="517" width="4" height="2" fill="#008000"/>
<rect x="369" y="526" width="4" height="2" fill="#3c3cff"/>
<rect x="369" y="530" width="4" height="4" fill="#00bfff"/>
<rect x="369" y="534" width="4" height="2" fill="#ffd700"/>
<rect x="369" y="536" width="4" height="1" fill="#3c3cff"/>
<rect x="369" y="537" width="4" height="2" fill="#ff0000"/>
<rect x="369" y="554" width="4" height="4" fill="#3c3cff"/>
<rect x="373" y="480" width="3" height="4" fill="#008000"/>
<rect x="373" y="484" width="3" height="2" fill="#00ffff"/>
<rect x="373" y="486" width="3" height="3" fill="#ffd700"/>
<rect x="373" y="489" width="3" height="4" fill="#008000"/>
<rect x="373" y="495" width="3" height="2" fill="#ffd700"/>
<rect x="373" y="499" width="3" height="1" fill="#008000"/>
<rect x="373" y="500" width="10" height="2" fill="#3c3cff"/>
<rect x="373" y="524" width="3" height="2" fill="#3c3cff"/>
<rect x="373" y="526" width="3" height="4" fill="#ffd700"/>
<rect x="373" y="530" width="3" height="2" fill="#3c3cff"/>
<rect x="373" y="536" width="3" height="1" fill="#00ffff"/>
<rect x="373" y="546" width="3" height="1" fill="#ffd700"/>
<rect x="373" y="550" width="3" height="2" fill="#ffd700"/>
<rect x="373" y="558" width="3" height="2" fill="#ffb6c1"/>
<rect x="373" y="560" width="3" height="3" fill="#3c3cff"/>
<rect x="376" y="476" width="3" height="2" fill="#ffd700"/>
<rect x="376" y="480" width="3" height="2" fill="#ffb6c1"/>
<rect x="376" y="493" width="3" height="2" fill="#00ffff"/>
<rect x="376" y="495" width="3" height="2" fill="#ffb6c1"/>
<rect x="376" y="497" width="3" height="2" fill="#00ffff"/>
<rect x="376" y="508" width="3" height="7" fill="#ffd700"/>
<rect x="376" y="515" width="3" height="2" fill="#00bfff"/>
<rect x="376" y="517" width="3" height="4" fill="#ffd700"/>
<rect x="376" y="530" width="3" height="2" fill="#00ffff"/>
<rect x="376" y="536" width="3" height="3" fill="#3c3cff"/>
<rect x="376" y="539" width="3" height="2" fill="#008000"/>
<rect x="376" y="541" width="3" height="4" fill="#ffd700"/>
<rect x="376" y="546" width="11" height="3" fill="#ffd700"/>
<rect x="376" y="550" width="3" height="2" fill="#ba55d3"/>
<rect x="376" y="552" width="3" height="6" fill="#ffd700"/>
<rect x="376" y="567" width="3" height="4" fill="#ffd700"/>
<rect x="379" y="476" width="4" height="2" fill="#00ffff"/>
<rect x="379" y="482" width="4" height="4" fill="#00ffff"/>
<rect x="379" y="486" width="4" height="3" fill="#ffd700"/>
<rect x="379" y="491" width="4" height="2" fill="#00ffff"/>
<rect x="379" y="493" width="4" height="2" fill="#008000"/>
<rect x="379" y="495" width="4" height="5" fill="#ffd700"/>
<rect x="379" y="502" width="4" height="4" fill="#ffd700"/>
<rect x="379" y="508" width="4" height="2" fill="#ba55d3"/>
<rect x="379" y="510" width="4" height="2" fill="#ffd700"/>
<rect x="379" y="530" width="4" height="2" fill="#ffd700"/>
<rect x="379" y="534" width="4" height="2" fill="#3c3cff"/>
<rect x="379" y="539" width="4" height="4" fill="#ffd700"/>
<rect x="379" y="543" width="4" height="2" fill="#008000"/>
<rect x="379" y="550" width="4" height="4" fill="#ffb6c1"/>
<rect x="379" y="554" width="8" height="4" fill="#ffd700"/>
<rect x="379" y="563" width="4" height="6" fill="#ba55d3"/>
<rect x="383" y="476" width="4" height="6" fill="#ffd700"/>
<rect x="383" y="484" width="4" height="3" fill="#00ffff"/>
<rect x="383" y="487" width="4" height="8" fill="#ffd700"/>
<rect x="383" y="497" width="4" height="2" fill="#ba55d3"/>
<rect x="383" y="499" width="4" height="5" fill="#ffd700"/>
<rect x="383" y="506" width="4" height="4" fill="#ffd700"/>
<rect x="383" y="528" width="4" height="8" fill="#ffd700"/>
<rect x="383" y="539" width="4" height="6" fill="#ffd700"/>
<rect x="383" y="562" width="4" height="3" fill="#ba55d3"/>
<rect x="387" y="476" width="5" height="11" fill="#ffd700"/>
<rect x="387" y="489" width="5" height="4" fill="#ffd700"/>
<rect x="387" y="506" width="5" height="2" fill="#ffd700"/>
<rect x="387" y="532" width="5" height="4" fill="#ffd700"/>
<rect x="387" y="537" width="5" height="2" fill="#3c3cff"/>
<rect x="387" y="539" width="5" height="6" fill="#ffd700"/>
<rect x="387" y="549" width="5" height="1" fill="#00ffff"/>
<rect x="387" y="550" width="5" height="2" fill="#ffd700"/>
<rect x="392" y="476" width="5" height="2" fill="#ffd700"/>
<rect x="392" y="479" width="5" height="12" fill="#ffd700"/>
<rect x="392" y="491" width="5" height="2" fill="#00ffff"/>
<rect x="392" y="495" width="5" height="7" fill="#3c3cff"/>
<rect x="392" y="502" width="5" height="2" fill="#00ffff"/>
<rect x="392" y="506" width="5" height="2" fill="#00ffff"/>
<rect x="392" y="508" width="5" height="4" fill="#3c3cff"/>
<rect x="392" y="513" width="5" height="2" fill="#ffb6c1"/>
<rect x="392" y="515" width="5" height="4" fill="#ffd700"/>
<rect x="392" y="521" width="5" height="3" fill="#3c3cff"/>
<rect x="392" y="530" width="5" height="7" fill="#ffd700"/>
<rect x="392" y="541" width="5" height="2" fill="#ffd700"/>
<rect x="392" y="543" width="5" height="2" fill="#ba55d3"/>
<rect x="392" y="546" width="5" height="1" fill="#ffd700"/>
<rect x="392" y="549" width="5" height="1" fill="#3c3cff"/>
<rect x="392" y="550" width="5" height="2" fill="#ffd700"/>
<rect x="392" y="552" width="5" height="2" fill="#ba55d3"/>
<rect x="392" y="554" width="5" height="2" fill="#3c3cff"/>
<rect x="402" y="480" width="5" height="4" fill="#3c3cff"/>
<rect x="402" y="484" width="5" height="2" fill="#ba55d3"/>
<rect x="402" y="487" width="5" height="4" fill="#3c3cff"/>
<rect x="402" y="491" width="5" height="2" fill="#ffd700"/>
<rect x="402" y="497" width="5" height="3" fill="#00ffff"/>
<rect x="402" y="500" width="5" height="2" fill="#ffd700"/>
<rect x="402" y="504" width="5" height="2" fill="#ffb6c1"/>
<rect x="402" y="506" width="5" height="2" fill="#ffd700"/>
<rect x="402" y="513" width="5" height="4" fill="#ffd700"/>
<rect x="402" y="519" width="5" height="2" fill="#ffd700"/>
<rect x="402" y="521" width="5" height="2" fill="#ffb6c1"/>
<rect x="402" y="526" width="5" height="4" fill="#ffd700"/>
<rect x="402" y="534" width="5" height="5" fill="#ffd700"/>
<rect x="402" y="541" width="5" height="2" fill="#ba55d3"/>
<rect x="402" y="543" width="5" height="2" fill="#ffb6c1"/>
<rect x="407" y="508" width="5" height="2" fill="#ba55d3"/>
<rect x="407" y="536" width="5" height="3" fill="#ba55d3"/>
<rect x="423" y="499" width="8" height="1" fill="#ba55d3"/>
<rect x="423" y="500" width="8" height="2" fill="#00bfff"/>
<rect x="431" y="502" width="10" height="4" fill="#ba55d3"/>
<rect x="431" y="508" width="10" height="2" fill="#ff0000"/>
<rect x="423" y="517" width="8" height="2" fill="#ba55d3"/>
<rect x="423" y="519" width="8" height="2" fill="#3c3cff"/>
<rect x="441" y="484" width="10" height="2" fill="#ff0000"/>
<rect x="441" y="487" width="10" height="2" fill="#3c3cff"/>
<rect x="441" y="491" width="10" height="4" fill="#3c3cff"/>
<rect x="441" y="495" width="10" height="2" fill="#ff0000"/>
<rect x="172" y="382" width="2" height="1" fill="#3c3cff"/>
<rect x="203" y="391" width="5" height="2" fill="#00ffff"/>
<rect x="126" y="408" width="2" height="1" fill="#00ffff"/>
<rect x="112" y="428" width="4" height="2" fill="#ff0000"/>
<rect x="112" y="430" width="4" height="2" fill="#00bfff"/>
<rect x="112" y="445" width="4" height="2" fill="#00bfff"/>
<rect x="112" y="447" width="4" height="1" fill="#3c3cff"/>
<rect x="112" y="454" width="4" height="2" fill="#ff0000"/>
<rect x="112" y="456" width="4" height="2" fill="#3c3cff"/>
<rect x="172" y="465" width="2" height="2" fill="#ffd700"/>
<rect x="232" y="467" width="6" height="4" fill="#ff0000"/>
<rect x="232" y="473" width="6" height="3" fill="#ff0000"/>
<rect x="238" y="447" width="6" height="7" fill="#ff0000"/>
<rect x="238" y="456" width="6" height="2" fill="#ffb6c1"/>
<rect x="238" y="458" width="6" height="2" fill="#ff0000"/>
<rect x="238" y="445" width="6" height="2" fill="#00bfff"/>
<rect x="244" y="437" width="4" height="4" fill="#ff0000"/>
<rect x="244" y="441" width="4" height="4" fill="#00bfff"/>
<rect x="244" y="445" width="4" height="2" fill="#ff0000"/>
<rect x="248" y="428" width="4" height="4" fill="#ff0000"/>
<rect x="252" y="422" width="4" height="2" fill="#ff0000"/>
<rect x="248" y="419" width="12" height="2" fill="#ff0000"/>
<rect x="252" y="417" width="8" height="2" fill="#ff0000"/>
<rect x="252" y="409" width="4" height="8" fill="#ff0000"/>
<rect x="260" y="411" width="5" height="2" fill="#ff0000"/>
<rect x="252" y="400" width="4" height="2" fill="#00bfff"/>
<rect x="252" y="402" width="8" height="4" fill="#ff0000"/>
<rect x="256" y="400" width="9" height="2" fill="#ff0000"/>
<rect x="265" y="402" width="4" height="2" fill="#00ffff"/>
<rect x="265" y="404" width="4" height="2" fill="#ff0000"/>
<rect x="260" y="387" width="5" height="2" fill="#00bfff"/>
<rect x="260" y="391" width="5" height="4" fill="#ff0000"/>
<rect x="260" y="395" width="5" height="1" fill="#00bfff"/>
<rect x="265" y="393" width="4" height="2" fill="#00bfff"/>
<rect x="265" y="395" width="4" height="5" fill="#ff0000"/>
<rect x="269" y="387" width="4" height="2" fill="#00bfff"/>
<rect x="269" y="389" width="4" height="2" fill="#ff0000"/>
<rect x="269" y="391" width="4" height="2" fill="#00bfff"/>
<rect x="269" y="398" width="8" height="4" fill="#ff0000"/>
<rect x="273" y="393" width="11" height="5" fill="#ff0000"/>
<rect x="277" y="398" width="3" height="2" fill="#ff0000"/>
<rect x="280" y="387" width="4" height="7" fill="#ff0000"/>
<rect x="280" y="382" width="7" height="3" fill="#ff0000"/>
<rect x="284" y="376" width="3" height="11" fill="#ff0000"/>
<rect x="287" y="380" width="4" height="3" fill="#ff0000"/>
<rect x="287" y="385" width="4" height="4" fill="#ff0000"/>
<rect x="287" y="369" width="4" height="7" fill="#ff0000"/>
<rect x="291" y="370" width="3" height="2" fill="#ff0000"/>
<rect x="291" y="372" width="3" height="2" fill="#3c3cff"/>
<rect x="291" y="374" width="3" height="2" fill="#00bfff"/>
<rect x="297" y="389" width="4" height="2" fill="#008000"/>
<rect x="297" y="391" width="4" height="2" fill="#00bfff"/>
<rect x="277" y="439" width="3" height="4" fill="#ffd700"/>
<rect x="319" y="374" width="4" height="6" fill="#ff0000"/>
<rect x="319" y="382" width="4" height="1" fill="#ff0000"/>
<rect x="319" y="391" width="4" height="2" fill="#ff0000"/>
<rect x="315" y="404" width="4" height="2" fill="#ff0000"/>
<rect x="319" y="406" width="4" height="2" fill="#ff0000"/>
<rect x="315" y="415" width="8" height="2" fill="#ff0000"/>
<rect x="315" y="417" width="4" height="2" fill="#ff0000"/>
<rect x="315" y="430" width="4" height="2" fill="#ff0000"/>
<rect x="315" y="434" width="4" height="1" fill="#3c3cff"/>
<rect x="315" y="435" width="4" height="2" fill="#00bfff"/>
<rect x="315" y="437" width="4" height="10" fill="#ff0000"/>
<rect x="319" y="443" width="4" height="11" fill="#ff0000"/>
<rect x="315" y="450" width="4" height="2" fill="#ff0000"/>
<rect x="319" y="456" width="4" height="13" fill="#ff0000"/>
<rect x="311" y="460" width="4" height="7" fill="#ff0000"/>
<rect x="311" y="473" width="4" height="3" fill="#ff0000"/>
<rect x="324" y="370" width="4" height="2" fill="#ffd700"/>
<rect x="335" y="369" width="8" height="3" fill="#ff0000"/>
<rect x="328" y="372" width="7" height="11" fill="#ffb6c1"/>
<rect x="328" y="383" width="7" height="2" fill="#ff0000"/>
<rect x="324" y="385" width="4" height="2" fill="#ff0000"/>
<rect x="324" y="393" width="4" height="3" fill="#ff0000"/>
<rect x="324" y="398" width="4" height="6" fill="#ff0000"/>
<rect x="335" y="400" width="8" height="2" fill="#00ffff"/>
<rect x="328" y="406" width="7" height="2" fill="#ffb6c1"/>
<rect x="328" y="408" width="7" height="3" fill="#ffd700"/>
<rect x="328" y="415" width="7" height="2" fill="#ffd700"/>
<rect x="324" y="426" width="4" height="4" fill="#ff0000"/>
<rect x="335" y="432" width="8" height="2" fill="#ff0000"/>
<rect x="324" y="434" width="4" height="3" fill="#ff0000"/>
<rect x="328" y="435" width="7" height="2" fill="#00ffff"/>
<rect x="335" y="450" width="8" height="2" fill="#00ffff"/>
<rect x="328" y="458" width="7" height="3" fill="#00ffff"/>
<rect x="335" y="458" width="8" height="2" fill="#00ffff"/>
<rect x="324" y="463" width="4" height="2" fill="#ff0000"/>
<rect x="328" y="463" width="7" height="4" fill="#00bfff"/>
<rect x="335" y="463" width="8" height="2" fill="#00ffff"/>
<rect x="328" y="473" width="7" height="3" fill="#00ffff"/>
<rect x="343" y="374" width="7" height="4" fill="#ffb6c1"/>
<rect x="343" y="378" width="7" height="2" fill="#ff0000"/>
<rect x="343" y="380" width="7" height="3" fill="#ba55d3"/>
<rect x="343" y="383" width="7" height="4" fill="#ff0000"/>
<rect x="343" y="391" width="7" height="2" fill="#ffb6c1"/>
<rect x="343" y="456" width="7" height="2" fill="#008000"/>
<rect x="343" y="463" width="7" height="2" fill="#008000"/>
<rect x="343" y="465" width="7" height="2" fill="#00bfff"/>
<rect x="343" y="467" width="7" height="2" fill="#008000"/>
<rect x="343" y="471" width="7" height="2" fill="#ffb6c1"/>
<rect x="350" y="409" width="6" height="2" fill="#00bfff"/>
<rect x="350" y="411" width="6" height="2" fill="#008000"/>
<rect x="350" y="417" width="6" height="5" fill="#008000"/>
<rect x="350" y="422" width="6" height="2" fill="#00bfff"/>
<rect x="350" y="424" width="6" height="5" fill="#008000"/>
<rect x="350" y="434" width="6" height="1" fill="#008000"/>
<rect x="350" y="439" width="6" height="4" fill="#008000"/>
<rect x="350" y="445" width="6" height="3" fill="#008000"/>
<rect x="350" y="450" width="6" height="6" fill="#008000"/>
<rect x="350" y="460" width="6" height="1" fill="#008000"/>
<rect x="350" y="467" width="6" height="2" fill="#00bfff"/>
<rect x="350" y="471" width="6" height="5" fill="#ffd700"/>
<rect x="356" y="369" width="5" height="5" fill="#008000"/>
<rect x="356" y="378" width="9" height="2" fill="#008000"/>
<rect x="356" y="389" width="5" height="4" fill="#008000"/>
<rect x="356" y="415" width="5" height="2" fill="#008000"/>
<rect x="356" y="426" width="5" height="2" fill="#00ffff"/>
<rect x="356" y="428" width="5" height="4" fill="#008000"/>
<rect x="356" y="432" width="5" height="2" fill="#ff0000"/>
<rect x="356" y="435" width="5" height="2" fill="#008000"/>
<rect x="356" y="445" width="5" height="2" fill="#008000"/>
<rect x="356" y="447" width="5" height="1" fill="#00ffff"/>
<rect x="356" y="454" width="5" height="4" fill="#00ffff"/>
<rect x="356" y="461" width="5" height="2" fill="#ffd700"/>
<rect x="356" y="463" width="5" height="2" fill="#00ffff"/>
<rect x="356" y="469" width="5" height="2" fill="#008000"/>
<rect x="356" y="471" width="5" height="2" fill="#ffd700"/>
<rect x="361" y="376" width="4" height="2" fill="#ffd700"/>
<rect x="361" y="402" width="4" height="2" fill="#00ffff"/>
<rect x="361" y="408" width="4" height="1" fill="#ffd700"/>
<rect x="361" y="430" width="4" height="2" fill="#ffd700"/>
<rect x="361" y="434" width="4" height="5" fill="#00ffff"/>
<rect x="361" y="439" width="4" height="2" fill="#008000"/>
<rect x="361" y="450" width="4" height="4" fill="#00ffff"/>
<rect x="361" y="456" width="4" height="2" fill="#ffd700"/>
<rect x="361" y="458" width="4" height="3" fill="#00ffff"/>
<rect x="365" y="376" width="4" height="2" fill="#008000"/>
<rect x="365" y="380" width="4" height="2" fill="#ffd700"/>
<rect x="365" y="382" width="4" height="3" fill="#00ffff"/>
<rect x="365" y="385" width="4" height="2" fill="#ffd700"/>
<rect x="365" y="387" width="4" height="4" fill="#008000"/>
<rect x="365" y="400" width="8" height="4" fill="#00ffff"/>
<rect x="365" y="404" width="4" height="4" fill="#00ffff"/>
<rect x="365" y="411" width="4" height="2" fill="#ffd700"/>
<rect x="365" y="419" width="8" height="2" fill="#008000"/>
<rect x="365" y="422" width="4" height="2" fill="#00ffff"/>
<rect x="365" y="430" width="4" height="2" fill="#00ffff"/>
<rect x="365" y="437" width="4" height="6" fill="#00ffff"/>
<rect x="365" y="448" width="4" height="8" fill="#00ffff"/>
<rect x="365" y="461" width="4" height="2" fill="#008000"/>
<rect x="365" y="469" width="4" height="2" fill="#008000"/>
<rect x="365" y="473" width="4" height="3" fill="#008000"/>
<rect x="369" y="370" width="4" height="2" fill="#008000"/>
<rect x="369" y="374" width="4" height="4" fill="#008000"/>
<rect x="369" y="404" width="4" height="2" fill="#008000"/>
<rect x="369" y="406" width="4" height="5" fill="#ffb6c1"/>
<rect x="369" y="411" width="4" height="4" fill="#00ffff"/>
<rect x="369" y="424" width="4" height="2" fill="#00ffff"/>
<rect x="369" y="426" width="4" height="2" fill="#00bfff"/>
<rect x="369" y="434" width="4" height="3" fill="#008000"/>
<rect x="369" y="439" width="4" height="2" fill="#00bfff"/>
<rect x="369" y="445" width="7" height="2" fill="#00ffff"/>
<rect x="369" y="447" width="4" height="5" fill="#008000"/>
<rect x="369" y="452" width="4" height="2" fill="#00bfff"/>
<rect x="369" y="458" width="4" height="2" fill="#008000"/>
<rect x="369" y="461" width="7" height="4" fill="#008000"/>
<rect x="369" y="465" width="4" height="6" fill="#008000"/>
<rect x="369" y="471" width="4" height="2" fill="#00bfff"/>
<rect x="373" y="372" width="3" height="2" fill="#008000"/>
<rect x="373" y="378" width="3" height="2" fill="#008000"/>
<rect x="373" y="387" width="3" height="2" fill="#008000"/>
<rect x="373" y="393" width="3" height="2" fill="#008000"/>
<rect x="373" y="396" width="3" height="2" fill="#008000"/>
<rect x="373" y="404" width="3" height="2" fill="#00bfff"/>
<rect x="373" y="408" width="3" height="9" fill="#008000"/>
<rect x="373" y="422" width="3" height="4" fill="#008000"/>
<rect x="373" y="428" width="3" height="4" fill="#008000"/>
<rect x="373" y="435" width="6" height="4" fill="#008000"/>
<rect x="373" y="437" width="3" height="2" fill="#3c3cff"/>
<rect x="373" y="439" width="3" height="2" fill="#00ffff"/>
<rect x="373" y="448" width="3" height="2" fill="#3c3cff"/>
<rect x="373" y="450" width="3" height="2" fill="#00ffff"/>
<rect x="373" y="454" width="3" height="4" fill="#008000"/>
<rect x="373" y="473" width="3" height="1" fill="#ff0000"/>
<rect x="376" y="369" width="3" height="1" fill="#00ffff"/>
<rect x="376" y="391" width="3" height="4" fill="#00ffff"/>
<rect x="376" y="441" width="3" height="4" fill="#008000"/>
<rect x="376" y="450" width="3" height="2" fill="#00ffff"/>
<rect x="376" y="452" width="3" height="2" fill="#008000"/>
<rect x="376" y="458" width="3" height="2" fill="#00ffff"/>
<rect x="376" y="463" width="3" height="4" fill="#ff0000"/>
<rect x="376" y="471" width="3" height="5" fill="#00ffff"/>
<rect x="379" y="382" width="4" height="1" fill="#00ffff"/>
<rect x="379" y="419" width="8" height="2" fill="#00ffff"/>
<rect x="379" y="435" width="4" height="2" fill="#00bfff"/>
<rect x="379" y="437" width="4" height="2" fill="#3c3cff"/>
<rect x="379" y="443" width="4" height="2" fill="#00ffff"/>
<rect x="379" y="445" width="4" height="3" fill="#008000"/>
<rect x="379" y="460" width="4" height="3" fill="#00ffff"/>
<rect x="379" y="463" width="4" height="2" fill="#ffd700"/>
<rect x="383" y="424" width="4" height="4" fill="#00ffff"/>
<rect x="383" y="452" width="4" height="2" fill="#ffd700"/>
<rect x="383" y="458" width="4" height="18" fill="#ffd700"/>
<rect x="387" y="404" width="5" height="2" fill="#00ffff"/>
<rect x="387" y="411" width="5" height="2" fill="#ffd700"/>
<rect x="387" y="419" width="5" height="5" fill="#ffd700"/>
<rect x="387" y="424" width="5" height="2" fill="#00ffff"/>
<rect x="387" y="426" width="5" height="6" fill="#ffd700"/>
<rect x="387" y="434" width="5" height="3" fill="#ffd700"/>
<rect x="387" y="460" width="5" height="3" fill="#ffd700"/>
<rect x="387" y="465" width="5" height="8" fill="#ffd700"/>
<rect x="387" y="467" width="10" height="4" fill="#ffd700"/>
<rect x="387" y="474" width="5" height="2" fill="#ffd700"/>
<rect x="392" y="383" width="5" height="2" fill="#00ffff"/>
<rect x="392" y="385" width="5" height="2" fill="#ffb6c1"/>
<rect x="392" y="398" width="5" height="4" fill="#00ffff"/>
<rect x="392" y="408" width="5" height="3" fill="#ffd700"/>
<rect x="392" y="430" width="5" height="13" fill="#ffd700"/>
<rect x="392" y="443" width="5" height="5" fill="#00ffff"/>
<rect x="392" y="463" width="5" height="2" fill="#ffd700"/>
<rect x="392" y="474" width="5" height="2" fill="#ffd700"/>
<rect x="402" y="422" width="5" height="2" fill="#3c3cff"/>
<rect x="402" y="424" width="5" height="2" fill="#00ffff"/>
<rect x="402" y="428" width="5" height="2" fill="#00bfff"/>
<rect x="402" y="430" width="5" height="2" fill="#3c3cff"/>
<rect x="402" y="439" width="5" height="6" fill="#3c3cff"/>
<rect x="402" y="445" width="5" height="2" fill="#ffd700"/>
<rect x="402" y="447" width="5" height="1" fill="#3c3cff"/>
<rect x="402" y="452" width="5" height="4" fill="#3c3cff"/>
<rect x="402" y="456" width="5" height="2" fill="#00ffff"/>
<rect x="402" y="461" width="5" height="4" fill="#3c3cff"/>
<rect x="402" y="465" width="5" height="2" fill="#ffd700"/>
<rect x="402" y="474" width="5" height="2" fill="#00bfff"/>
<rect x="423" y="408" width="8" height="1" fill="#3c3cff"/>
<rect x="423" y="426" width="8" height="2" fill="#3c3cff"/>
<rect x="423" y="445" width="8" height="2" fill="#00bfff"/>
<rect x="431" y="443" width="10" height="2" fill="#00bfff"/>
<rect x="423" y="461" width="8" height="2" fill="#ba55d3"/>
<rect x="423" y="463" width="8" height="2" fill="#00ffff"/>
<rect x="431" y="463" width="10" height="2" fill="#ba55d3"/>
<rect x="441" y="434" width="10" height="1" fill="#00bfff"/>
<rect x="441" y="437" width="10" height="4" fill="#00bfff"/>
<rect x="441" y="443" width="10" height="2" fill="#00ffff"/>
<rect x="441" y="445" width="10" height="2" fill="#3c3cff"/>
<rect x="441" y="450" width="10" height="6" fill="#00bfff"/>
<rect x="441" y="456" width="10" height="2" fill="#ff0000"/>
<rect x="441" y="458" width="10" height="2" fill="#00bfff"/>
<rect x="441" y="460" width="10" height="1" fill="#00ffff"/>
<rect x="441" y="461" width="10" height="2" fill="#00bfff"/>
<rect x="441" y="474" width="10" height="2" fill="#00bfff"/>
<rect x="172" y="270" width="2" height="2" fill="#3c3cff"/>
<rect x="172" y="289" width="2" height="2" fill="#00ffff"/>
<rect x="126" y="296" width="2" height="2" fill="#00ffff"/>
<rect x="172" y="335" width="2" height="2" fill="#00ffff"/>
<rect x="172" y="354" width="2" height="2" fill="#00ffff"/>
<rect x="172" y="363" width="2" height="2" fill="#00ffff"/>
<rect x="319" y="268" width="4" height="2" fill="#ff0000"/>
<rect x="291" y="331" width="3" height="4" fill="#ff0000"/>
<rect x="291" y="335" width="3" height="2" fill="#00ffff"/>
<rect x="291" y="337" width="3" height="4" fill="#ffd700"/>
<rect x="287" y="354" width="4" height="2" fill="#ffd700"/>
<rect x="291" y="354" width="3" height="9" fill="#ff0000"/>
<rect x="287" y="359" width="4" height="2" fill="#ff0000"/>
<rect x="294" y="363" width="3" height="2" fill="#ff0000"/>
<rect x="287" y="365" width="4" height="2" fill="#ba55d3"/>
<rect x="287" y="367" width="4" height="2" fill="#ff0000"/>
<rect x="319" y="311" width="4" height="2" fill="#ff0000"/>
<rect x="319" y="318" width="4" height="2" fill="#ff0000"/>
<rect x="319" y="333" width="4" height="6" fill="#ff0000"/>
<rect x="319" y="348" width="4" height="2" fill="#ff0000"/>
<rect x="319" y="356" width="4" height="1" fill="#00bfff"/>
<rect x="319" y="357" width="4" height="4" fill="#ff0000"/>
<rect x="324" y="296" width="4" height="2" fill="#ffb6c1"/>
<rect x="324" y="299" width="4" height="1" fill="#ff0000"/>
<rect x="324" y="300" width="4" height="4" fill="#ffb6c1"/>
<rect x="324" y="304" width="4" height="1" fill="#ff0000"/>
<rect x="324" y="328" width="4" height="3" fill="#ff0000"/>
<rect x="324" y="333" width="4" height="6" fill="#ff0000"/>
<rect x="324" y="348" width="4" height="4" fill="#ff0000"/>
<rect x="324" y="365" width="4" height="4" fill="#ff0000"/>
<rect x="328" y="283" width="7" height="4" fill="#ff0000"/>
<rect x="328" y="289" width="7" height="3" fill="#ff0000"/>
<rect x="328" y="307" width="7" height="4" fill="#ff0000"/>
<rect x="328" y="315" width="7" height="2" fill="#ff0000"/>
<rect x="328" y="320" width="7" height="2" fill="#ffb6c1"/>
<rect x="328" y="326" width="7" height="7" fill="#ff0000"/>
<rect x="328" y="335" width="7" height="2" fill="#ffb6c1"/>
<rect x="328" y="337" width="7" height="2" fill="#ff0000"/>
<rect x="328" y="340" width="7" height="3" fill="#ffb6c1"/>
<rect x="328" y="343" width="7" height="1" fill="#ff0000"/>
<rect x="328" y="350" width="7" height="2" fill="#ff0000"/>
<rect x="328" y="357" width="7" height="2" fill="#ffb6c1"/>
<rect x="328" y="361" width="7" height="2" fill="#ff0000"/>
<rect x="335" y="281" width="8" height="4" fill="#00bfff"/>
<rect x="335" y="300" width="8" height="4" fill="#ff0000"/>
<rect x="335" y="309" width="8" height="2" fill="#00bfff"/>
<rect x="335" y="311" width="8" height="2" fill="#ff0000"/>
<rect x="335" y="324" width="8" height="2" fill="#ff0000"/>
<rect x="335" y="330" width="8" height="3" fill="#ff0000"/>
<rect x="335" y="348" width="8" height="2" fill="#00bfff"/>
<rect x="335" y="356" width="8" height="1" fill="#ff0000"/>
<rect x="335" y="361" width="8" height="4" fill="#ff0000"/>
<rect x="361" y="274" width="4" height="2" fill="#ffb6c1"/>
<rect x="361" y="299" width="4" height="5" fill="#ffb6c1"/>
<rect x="361" y="307" width="4" height="2" fill="#ffb6c1"/>
<rect x="361" y="313" width="4" height="2" fill="#ffb6c1"/>
<rect x="373" y="311" width="3" height="2" fill="#008000"/>
<rect x="356" y="324" width="5" height="4" fill="#008000"/>
<rect x="350" y="341" width="6" height="2" fill="#008000"/>
<rect x="356" y="343" width="5" height="1" fill="#008000"/>
<rect x="379" y="339" width="4" height="2" fill="#00ffff"/>
<rect x="379" y="348" width="4" height="4" fill="#ba55d3"/>
<rect x="369" y="350" width="4" height="2" fill="#008000"/>
<rect x="361" y="354" width="4" height="3" fill="#008000"/>
<rect x="369" y="357" width="4" height="2" fill="#008000"/>
<rect x="373" y="356" width="3" height="1" fill="#00bfff"/>
<rect x="376" y="359" width="3" height="10" fill="#00ffff"/>
<rect x="373" y="365" width="3" height="4" fill="#00ffff"/>
<rect x="365" y="363" width="4" height="2" fill="#00ffff"/>
<rect x="365" y="365" width="4" height="2" fill="#008000"/>
<rect x="356" y="365" width="5" height="4" fill="#008000"/>
<rect x="383" y="365" width="4" height="2" fill="#ffd700"/>
<rect x="423" y="294" width="8" height="2" fill="#ff0000"/>
<rect x="423" y="296" width="8" height="2" fill="#3c3cff"/>
<rect x="423" y="331" width="8" height="2" fill="#ff0000"/>
<rect x="423" y="333" width="8" height="2" fill="#00bfff"/>
<rect x="146" y="175" width="4" height="1" fill="#ba55d3"/>
<rect x="146" y="192" width="4" height="2" fill="#ba55d3"/>
<rect x="146" y="211" width="4" height="2" fill="#ba55d3"/>
<rect x="146" y="229" width="4" height="2" fill="#ba55d3"/>
<rect x="146" y="248" width="4" height="2" fill="#ba55d3"/>
<rect x="172" y="177" width="2" height="2" fill="#00ffff"/>
<rect x="172" y="196" width="2" height="2" fill="#00ffff"/>
<rect x="172" y="205" width="2" height="2" fill="#00ffff"/>
<rect x="172" y="224" width="2" height="2" fill="#ffb6c1"/>
<rect x="172" y="240" width="2" height="2" fill="#ba55d3"/>
<rect x="172" y="242" width="2" height="2" fill="#00ffff"/>
<rect x="172" y="252" width="2" height="1" fill="#00ffff"/>
<rect x="361" y="257" width="4" height="2" fill="#ba55d3"/>
<rect x="423" y="240" width="8" height="2" fill="#3c3cff"/>
<rect x="423" y="259" width="8" height="2" fill="#3c3cff"/>
<rect x="460" y="426" width="8" height="2" fill="#00bfff"/>
<rect x="460" y="430" width="8" height="2" fill="#ba55d3"/>
<rect x="460" y="432" width="8" height="3" fill="#3c3cff"/>
<rect x="460" y="439" width="8" height="4" fill="#3c3cff"/>
<rect x="460" y="443" width="8" height="2" fill="#00bfff"/>
<rect x="460" y="448" width="8" height="4" fill="#ff0000"/>
<rect x="460" y="452" width="8" height="2" fill="#008000"/>
<rect x="460" y="458" width="8" height="2" fill="#00bfff"/>
<rect x="460" y="460" width="8" height="1" fill="#3c3cff"/>
<rect x="460" y="461" width="8" height="4" fill="#00bfff"/>
<rect x="460" y="465" width="8" height="4" fill="#3c3cff"/>
<rect x="460" y="469" width="8" height="4" fill="#00bfff"/>
<rect x="460" y="474" width="8" height="2" fill="#ba55d3"/>
<rect x="460" y="476" width="8" height="4" fill="#00bfff"/>
<rect x="475" y="430" width="7" height="2" fill="#3c3cff"/>
<rect x="475" y="443" width="7" height="2" fill="#ba55d3"/>
<rect x="475" y="445" width="7" height="2" fill="#ff0000"/>
<rect x="475" y="461" width="7" height="2" fill="#00bfff"/>
<rect x="475" y="463" width="7" height="2" fill="#3c3cff"/>
<rect x="475" y="465" width="7" height="2" fill="#ffb6c1"/>
<rect x="475" y="476" width="7" height="2" fill="#ff0000"/>
<rect x="493" y="500" width="5" height="2" fill="#00bfff"/>
<rect x="493" y="519" width="10" height="2" fill="#00bfff"/>
<rect x="498" y="443" width="5" height="2" fill="#3c3cff"/>
<rect x="498" y="478" width="5" height="4" fill="#3c3cff"/>
<rect x="498" y="515" width="5" height="4" fill="#3c3cff"/>
<rect x="498" y="534" width="5" height="3" fill="#3c3cff"/>
<rect x="530" y="408" width="7" height="1" fill="#ffb6c1"/>
<rect x="530" y="413" width="7" height="2" fill="#00bfff"/>
<rect x="498" y="311" width="5" height="4" fill="#3c3cff"/>
<rect x="498" y="330" width="5" height="1" fill="#3c3cff"/>
<rect x="564" y="302" width="7" height="2" fill="#00bfff"/>
<rect x="551" y="357" width="6" height="2" fill="#ffd700"/>
<rect x="551" y="378" width="6" height="2" fill="#ffd700"/>
<rect x="583" y="380" width="6" height="2" fill="#ba55d3"/>
<rect x="475" y="549" width="7" height="1" fill="#ff0000"/>
<rect x="475" y="550" width="7" height="2" fill="#00bfff"/>
<rect x="493" y="575" width="5" height="1" fill="#00bfff"/>
<rect x="498" y="589" width="5" height="2" fill="#3c3cff"/>
<rect x="475" y="632" width="7" height="4" fill="#ba55d3"/>
<rect x="482" y="643" width="7" height="2" fill="#ffd700"/>
<rect x="493" y="649" width="5" height="2" fill="#00bfff"/>
<rect x="517" y="573" width="7" height="2" fill="#ffb6c1"/>
<rect x="517" y="632" width="7" height="2" fill="#ba55d3"/>
<rect x="517" y="634" width="7" height="2" fill="#ffb6c1"/>
<rect x="530" y="634" width="7" height="2" fill="#008000"/>
<rect x="537" y="630" width="7" height="2" fill="#ff0000"/>
<rect x="537" y="632" width="20" height="4" fill="#00bfff"/>
<rect x="544" y="630" width="7" height="2" fill="#00bfff"/>
<rect x="551" y="630" width="6" height="2" fill="#ba55d3"/>
<rect x="551" y="636" width="6" height="2" fill="#3c3cff"/>
<rect x="564" y="632" width="7" height="4" fill="#00bfff"/>
<rect x="551" y="552" width="6" height="4" fill="#ff0000"/>
<rect x="564" y="549" width="7" height="3" fill="#ff0000"/>
<rect x="583" y="547" width="6" height="2" fill="#ba55d3"/>
<rect x="551" y="597" width="6" height="2" fill="#ffd700"/>
<rect x="551" y="617" width="6" height="2" fill="#00bfff"/>
<rect x="571" y="615" width="6" height="2" fill="#ba55d3"/>
<rect x="423" y="703" width="8" height="2" fill="#ba55d3"/>
<rect x="423" y="705" width="8" height="1" fill="#3c3cff"/>
<rect x="423" y="721" width="8" height="2" fill="#ba55d3"/>
<rect x="423" y="723" width="8" height="2" fill="#3c3cff"/>
<rect x="431" y="718" width="10" height="1" fill="#ff0000"/>
<rect x="493" y="705" width="5" height="1" fill="#00bfff"/>
<rect x="517" y="736" width="7" height="2" fill="#ffb6c1"/>
<rect x="551" y="708" width="6" height="2" fill="#ffd700"/>
<rect x="583" y="727" width="6" height="2" fill="#00ffff"/>
<rect x="623" y="187" width="14" height="2" fill="#ba55d3"/>
<rect x="623" y="205" width="14" height="2" fill="#ffd700"/>
<rect x="623" y="213" width="14" height="2" fill="#ba55d3"/>
<rect x="623" y="222" width="14" height="2" fill="#ba55d3"/>
<rect x="623" y="229" width="14" height="4" fill="#ba55d3"/>
<rect x="623" y="240" width="14" height="2" fill="#ba55d3"/>
<rect x="623" y="244" width="14" height="2" fill="#ff0000"/>
<rect x="623" y="246" width="14" height="2" fill="#00bfff"/>
<rect x="623" y="248" width="14" height="2" fill="#008000"/>
<rect x="623" y="250" width="14" height="2" fill="#ba55d3"/>
<rect x="623" y="252" width="14" height="1" fill="#008000"/>
<rect x="623" y="253" width="14" height="2" fill="#00bfff"/>
<rect x="623" y="255" width="14" height="2" fill="#ba55d3"/>
<rect x="623" y="257" width="14" height="2" fill="#ff0000"/>
<rect x="623" y="259" width="14" height="2" fill="#008000"/>
<rect x="661" y="253" width="12" height="4" fill="#3c3cff"/>
<rect x="661" y="320" width="12" height="2" fill="#3c3cff"/>
<rect x="637" y="335" width="13" height="2" fill="#ba55d3"/>
<rect x="604" y="367" width="7" height="2" fill="#ffb6c1"/>
<rect x="637" y="367" width="13" height="2" fill="#ffb6c1"/>
<rect x="637" y="369" width="13" height="1" fill="#ffd700"/>
<rect x="673" y="356" width="11" height="1" fill="#008000"/>
<rect x="673" y="361" width="11" height="2" fill="#ff0000"/>
<rect x="673" y="378" width="11" height="2" fill="#ffd700"/>
<rect x="673" y="387" width="11" height="2" fill="#ffd700"/>
<rect x="661" y="391" width="12" height="2" fill="#ba55d3"/>
<rect x="650" y="395" width="11" height="1" fill="#ba55d3"/>
<rect x="661" y="415" width="12" height="2" fill="#3c3cff"/>
<rect x="661" y="419" width="12" height="2" fill="#3c3cff"/>
<rect x="637" y="422" width="13" height="2" fill="#ffd700"/>
<rect x="661" y="437" width="12" height="2" fill="#3c3cff"/>
<rect x="673" y="499" width="11" height="1" fill="#008000"/>
<rect x="673" y="508" width="11" height="2" fill="#ff0000"/>
<rect x="637" y="608" width="13" height="2" fill="#ffd700"/>
<rect x="673" y="619" width="11" height="4" fill="#008000"/>
<rect x="637" y="660" width="13" height="2" fill="#ffd700"/>
<rect x="717" y="632" width="13" height="99" fill="#ffd700"/>
<rect x="717" y="632" width="13" height="4" fill="#ff0000"/>
<rect x="717" y="643" width="13" height="2" fill="#00ffff"/>
<rect x="717" y="647" width="13" height="4" fill="#ff0000"/>
<rect x="717" y="684" width="13" height="4" fill="#ff0000"/>
<rect x="717" y="697" width="13" height="2" fill="#ff0000"/>
<rect x="717" y="701" width="13" height="5" fill="#ff0000"/>
<rect x="717" y="708" width="13" height="6" fill="#ff0000"/>
<rect x="650" y="719" width="11" height="2" fill="#ffd700"/>
<rect x="623" y="736" width="14" height="2" fill="#ba55d3"/>
<rect x="273" y="586" width="4" height="2" fill="#ff0000"/>
<rect x="256" y="588" width="4" height="3" fill="#00bfff"/>
<rect x="256" y="591" width="4" height="4" fill="#ff0000"/>
<rect x="252" y="595" width="4" height="2" fill="#ffffff"/>
<rect x="252" y="603" width="4" height="3" fill="#ff0000"/>
<rect x="244" y="623" width="4" height="2" fill="#ffffff"/>
<rect x="248" y="625" width="4" height="2" fill="#ff0000"/>
<rect x="301" y="554" width="3" height="2" fill="#00bfff"/>
<rect x="311" y="554" width="4" height="2" fill="#3c3cff"/>
<rect x="291" y="558" width="3" height="4" fill="#ffffff"/>
<rect x="287" y="556" width="4" height="2" fill="#ff0000"/>
<rect x="294" y="566" width="3" height="5" fill="#ff0000"/>
<rect x="297" y="565" width="4" height="4" fill="#ffffff"/>
<rect x="304" y="573" width="7" height="2" fill="#ffffff"/>
<rect x="307" y="576" width="4" height="2" fill="#00bfff"/>
<rect x="311" y="573" width="4" height="2" fill="#00bfff"/>
<rect x="297" y="580" width="7" height="2" fill="#00bfff"/>
<rect x="294" y="581" width="3" height="3" fill="#ff0000"/>
<rect x="297" y="582" width="4" height="2" fill="#008000"/>
<rect x="291" y="582" width="3" height="2" fill="#00ffff"/>
<rect x="294" y="588" width="3" height="1" fill="#00bfff"/>
<rect x="297" y="591" width="4" height="2" fill="#00bfff"/>
<rect x="260" y="582" width="5" height="2" fill="#ffb6c1"/>
<rect x="260" y="601" width="4" height="10" fill="#ff0000"/>
<rect x="328" y="556" width="7" height="2" fill="#00ffff"/>
<rect x="212" y="638" width="18" height="3" fill="#ff0000"/>
<rect x="212" y="636" width="10" height="2" fill="#00bfff"/>
<rect x="208" y="638" width="4" height="3" fill="#00ffff"/>
<rect x="217" y="641" width="5" height="2" fill="#ff0000"/>
<rect x="212" y="641" width="5" height="2" fill="#00bfff"/>
<rect x="212" y="643" width="5" height="2" fill="#00ffff"/>
<rect x="217" y="643" width="9" height="2" fill="#00bfff"/>
<rect x="222" y="641" width="4" height="2" fill="#00bfff"/>
<rect x="222" y="630" width="8" height="2" fill="#ff0000"/>
<rect x="232" y="627" width="6" height="3" fill="#00ffff"/>
<rect x="244" y="619" width="4" height="2" fill="#00ffff"/>
<rect x="199" y="656" width="4" height="2" fill="#00ffff"/>
<rect x="217" y="667" width="3" height="4" fill="#ffffff"/>
<rect x="328" y="560" width="15" height="2" fill="#00bfff"/>
<rect x="324" y="563" width="4" height="2" fill="#ffffff"/>
<rect x="350" y="575" width="6" height="1" fill="#00bfff"/>
<rect x="361" y="575" width="4" height="1" fill="#3c3cff"/>
<rect x="387" y="465" width="5" height="2" fill="#ffffff"/>
<rect x="392" y="478" width="5" height="4" fill="#ffffff"/>
<rect x="330" y="465" width="5" height="2" fill="#00ffff"/>
</g>
<path d="M138.5 100.5V793.5M230.5 100.5V793.5M323.5 100.5V793.5M415.5 100.5V793.5M508.5 100.5V793.5M600.5 100.5V793.5M692.5 100.5V793.5M92.5 669.5H785.5M92.5 545.5H785.5M92.5 421.5H785.5M92.5 298.5H785.5M92.5 174.5H785.5" stroke="#b0b0b0" stroke-width="1.07" fill="none"/>
<path d="M138.5 793.5v4.9M230.5 793.5v4.9M323.5 793.5v4.9M415.5 793.5v4.9M508.5 793.5v4.9M600.5 793.5v4.9M692.5 793.5v4.9M785.5 793.5v4.9M92.5 793.5h-4.9M92.5 669.5h-4.9M92.5 545.5h-4.9M92.5 421.5h-4.9M92.5 298.5h-4.9M92.5 174.5h-4.9" stroke="#000" stroke-width="1.07" fill="none"/>
<path d="M92.5 793.5v2.9M115.5 793.5v2.9M161.5 793.5v2.9M184.5 793.5v2.9M207.5 793.5v2.9M253.5 793.5v2.9M277.5 793.5v2.9M300.5 793.5v2.9M346.5 793.5v2.9M369.5 793.5v2.9M392.5 793.5v2.9M438.5 793.5v2.9M461.5 793.5v2.9M484.5 793.5v2.9M531.5 793.5v2.9M554.5 793.5v2.9M577.5 793.5v2.9M623.5 793.5v2.9M646.5 793.5v2.9M669.5 793.5v2.9M715.5 793.5v2.9M739.5 793.5v2.9M762.5 793.5v2.9M92.5 762.5h-2.9M92.5 731.5h-2.9M92.5 700.5h-2.9M92.5 638.5h-2.9M92.5 607.5h-2.9M92.5 576.5h-2.9M92.5 514.5h-2.9M92.5 483.5h-2.9M92.5 452.5h-2.9M92.5 391.5h-2.9M92.5 360.5h-2.9M92.5 329.5h-2.9M92.5 267.5h-2.9M92.5 236.5h-2.9M92.5 205.5h-2.9M92.5 143.5h-2.9M92.5 112.5h-2.9" stroke="#000" stroke-width="0.8" fill="none"/>
<rect x="92.5" y="100.5" width="693.0" height="693.0" fill="none" stroke="#000" stroke-width="1.07"/>
<text x="138.70" y="815" font-size="16" letter-spacing="0.1" text-anchor="middle">2</text>
<text x="230.70" y="815" font-size="16" letter-spacing="0.1" text-anchor="middle">4</text>
<text x="323.70" y="815" font-size="16" letter-spacing="0.1" text-anchor="middle">6</text>
<text x="415.70" y="815" font-size="16" letter-spacing="0.1" text-anchor="middle">8</text>
<text x="508.70" y="815" font-size="16" letter-spacing="0.1" text-anchor="middle">10</text>
<text x="600.70" y="815" font-size="16" letter-spacing="0.1" text-anchor="middle">12</text>
<text x="692.70" y="815" font-size="16" letter-spacing="0.1" text-anchor="middle">14</text>
<text x="785.70" y="815" font-size="16" letter-spacing="0.1" text-anchor="middle">16</text>
<text x="82.1" y="799.10" font-size="16" letter-spacing="0.4" text-anchor="end">0</text>
<text x="82.1" y="675.10" font-size="16" letter-spacing="0.4" text-anchor="end">200</text>
<text x="82.1" y="551.90" font-size="16" letter-spacing="0.4" text-anchor="end">400</text>
<text x="82.1" y="427.10" font-size="16" letter-spacing="0.4" text-anchor="end">600</text>
<text x="82.1" y="304.10" font-size="16" letter-spacing="0.4" text-anchor="end">800</text>
<text x="82.1" y="180.10" font-size="16" letter-spacing="0.4" text-anchor="end">1000</text>
<text x="438.40" y="842.2" font-size="24" letter-spacing="0.08" text-anchor="middle">Frequency (MHz)</text>
<text transform="translate(28.3,447.50) rotate(-90)" font-size="24" text-anchor="middle">Virtual height (km)</text>
<text x="425.2" y="31.6" font-size="28.8" letter-spacing="0.08" text-anchor="middle">NAL CADI - May 30 13:30:00 2023 UTC</text>
<rect x="816.5" y="82.00" width="30.00" height="90.50" fill="#00bfff"/>
<rect x="816.5" y="172.00" width="30.00" height="90.50" fill="#00ffff"/>
<rect x="816.5" y="262.00" width="30.00" height="90.50" fill="#ffd700"/>
<rect x="816.5" y="352.00" width="30.00" height="90.50" fill="#ffb6c1"/>
<rect x="816.5" y="442.00" width="30.00" height="90.50" fill="#ba55d3"/>
<rect x="816.5" y="532.00" width="30.00" height="90.50" fill="#3c3cff"/>
<rect x="816.5" y="622.00" width="30.00" height="90.50" fill="#ff0000"/>
<rect x="816.5" y="712.00" width="30.00" height="90.50" fill="#008000"/>
<rect x="816.5" y="82.5" width="30.00" height="720.0" fill="none" stroke="#000" stroke-width="1.07"/>
<path d="M846.5 127.50h4.9M846.5 217.50h4.9M846.5 307.50h4.9M846.5 397.50h4.9M846.5 487.50h4.9M846.5 577.50h4.9M846.5 667.50h4.9M846.5 757.50h4.9" stroke="#000" stroke-width="1.07" fill="none"/>
<path d="M846.5 82.50h2.9M846.5 172.50h2.9M846.5 262.50h2.9M846.5 352.50h2.9M846.5 442.50h2.9M846.5 532.50h2.9M846.5 622.50h2.9M846.5 712.50h2.9M846.5 802.50h2.9" stroke="#000" stroke-width="0.8" fill="none"/>
<text x="856" y="132.60" font-size="16" letter-spacing="0.4">NNE</text>
<text x="856" y="222.60" font-size="16" letter-spacing="0.4">E</text>
<text x="856" y="312.60" font-size="16" letter-spacing="0.4">SSE</text>
<text x="856" y="402.60" font-size="16" letter-spacing="0.4">SSW</text>
<text x="856" y="492.60" font-size="16" letter-spacing="0.4">W</text>
<text x="856" y="582.60" font-size="16" letter-spacing="0.4">NNW</text>
<text x="856" y="672.60" font-size="16" letter-spacing="0.4">Vertical</text>
<text x="856" y="762.60" font-size="16" letter-spacing="0.4">X-mode</text>
<text transform="translate(942.4,443.00) rotate(-90)" font-size="24" text-anchor="middle">Azimuth Direction</text>
</svg></body></html>
